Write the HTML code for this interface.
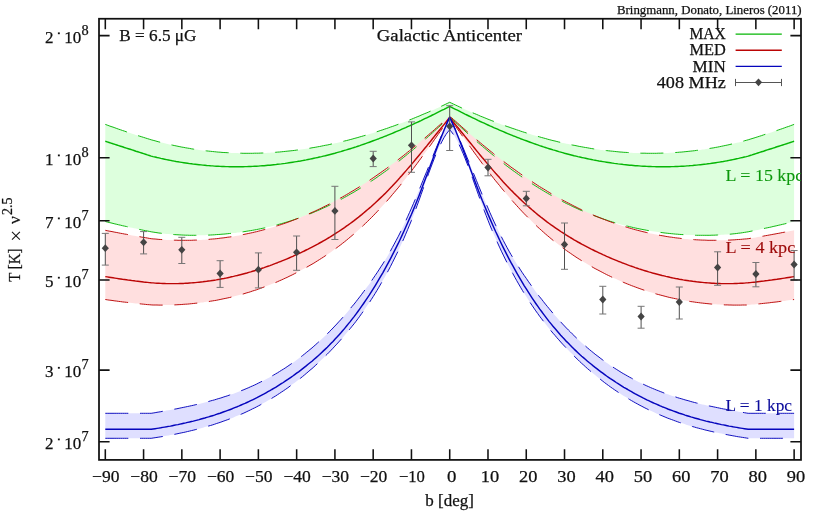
<!DOCTYPE html><html><head><meta charset="utf-8"><title>plot</title><style>html,body{margin:0;padding:0;background:#fff}svg{display:block;will-change:transform;opacity:.999}text{font-family:"Liberation Serif",serif;fill:#111;stroke:#111;stroke-width:.25px}</style></head><body>
<svg width="830" height="512" viewBox="0 0 830 512">
<rect width="830" height="512" fill="#fff"/>
<path d="M105.3 124.4L107.2 125.1L109.1 125.8L111.0 126.5L113.0 127.1L114.9 127.8L116.8 128.5L118.7 129.2L120.6 129.8L122.5 130.5L124.4 131.1L126.4 131.8L128.3 132.4L130.2 133.1L132.1 133.7L134.0 134.3L135.9 134.9L137.8 135.6L139.7 136.2L141.7 136.8L143.6 137.4L145.5 138.0L147.4 138.6L149.3 139.2L151.2 139.8L153.1 140.3L155.1 140.8L157.0 141.4L158.9 141.9L160.8 142.4L162.7 142.8L164.6 143.3L166.5 143.8L168.5 144.2L170.4 144.7L172.3 145.1L174.2 145.5L176.1 145.9L178.0 146.3L179.9 146.7L181.8 147.1L183.8 147.4L185.7 147.8L187.6 148.1L189.5 148.4L191.4 148.8L193.3 149.1L195.2 149.4L197.2 149.6L199.1 149.9L201.0 150.2L202.9 150.4L204.8 150.7L206.7 150.9L208.6 151.1L210.5 151.3L212.5 151.5L214.4 151.7L216.3 151.9L218.2 152.1L220.1 152.2L222.0 152.4L223.9 152.5L225.9 152.6L227.8 152.7L229.7 152.8L231.6 152.9L233.5 153.0L235.4 153.1L237.3 153.1L239.2 153.2L241.2 153.2L243.1 153.3L245.0 153.3L246.9 153.3L248.8 153.3L250.7 153.3L252.6 153.3L254.6 153.2L256.5 153.2L258.4 153.2L260.3 153.1L262.2 153.0L264.1 153.0L266.0 152.9L267.9 152.8L269.9 152.7L271.8 152.5L273.7 152.4L275.6 152.3L277.5 152.1L279.4 152.0L281.3 151.8L283.3 151.6L285.2 151.4L287.1 151.2L289.0 151.0L290.9 150.8L292.8 150.6L294.7 150.4L296.6 150.1L298.6 149.9L300.5 149.6L302.4 149.3L304.3 149.1L306.2 148.8L308.1 148.5L310.0 148.2L312.0 147.8L313.9 147.5L315.8 147.2L317.7 146.8L319.6 146.5L321.5 146.1L323.4 145.7L325.3 145.3L327.3 145.0L329.2 144.6L331.1 144.1L333.0 143.7L334.9 143.3L336.8 142.9L338.7 142.4L340.7 142.0L342.6 141.5L344.5 141.0L346.4 140.6L348.3 140.1L350.2 139.6L352.1 139.1L354.1 138.5L356.0 138.0L357.9 137.5L359.8 136.9L361.7 136.4L363.6 135.8L365.5 135.3L367.4 134.7L369.4 134.1L371.3 133.5L373.2 132.9L375.1 132.3L377.0 131.7L378.9 131.1L380.8 130.4L382.8 129.8L384.7 129.1L386.6 128.5L388.5 127.8L390.4 127.1L392.3 126.5L394.2 125.8L396.1 125.1L398.1 124.4L400.0 123.6L401.9 122.9L403.8 122.2L405.7 121.4L407.6 120.7L409.5 119.9L411.5 119.2L413.4 118.4L415.3 117.6L417.2 116.8L419.1 116.1L421.0 115.2L422.9 114.4L424.8 113.6L426.8 112.8L428.7 112.0L430.6 111.1L432.5 110.3L434.4 109.4L436.3 108.6L438.2 107.7L440.2 106.8L442.1 105.9L444.0 105.0L445.9 104.1L447.8 103.2L449.7 102.3L451.6 103.2L453.5 104.1L455.5 105.0L457.4 105.9L459.3 106.8L461.2 107.7L463.1 108.6L465.0 109.4L466.9 110.3L468.9 111.1L470.8 112.0L472.7 112.8L474.6 113.6L476.5 114.4L478.4 115.2L480.3 116.1L482.2 116.8L484.2 117.6L486.1 118.4L488.0 119.2L489.9 119.9L491.8 120.7L493.7 121.4L495.6 122.2L497.6 122.9L499.5 123.6L501.4 124.4L503.3 125.1L505.2 125.8L507.1 126.5L509.0 127.1L510.9 127.8L512.9 128.5L514.8 129.1L516.7 129.8L518.6 130.4L520.5 131.1L522.4 131.7L524.3 132.3L526.3 132.9L528.2 133.5L530.1 134.1L532.0 134.7L533.9 135.3L535.8 135.8L537.7 136.4L539.6 136.9L541.6 137.5L543.5 138.0L545.4 138.5L547.3 139.1L549.2 139.6L551.1 140.1L553.0 140.6L555.0 141.0L556.9 141.5L558.8 142.0L560.7 142.4L562.6 142.9L564.5 143.3L566.4 143.7L568.4 144.1L570.3 144.6L572.2 145.0L574.1 145.3L576.0 145.7L577.9 146.1L579.8 146.5L581.7 146.8L583.7 147.2L585.6 147.5L587.5 147.8L589.4 148.2L591.3 148.5L593.2 148.8L595.1 149.1L597.1 149.3L599.0 149.6L600.9 149.9L602.8 150.1L604.7 150.4L606.6 150.6L608.5 150.8L610.4 151.0L612.4 151.2L614.3 151.4L616.2 151.6L618.1 151.8L620.0 152.0L621.9 152.1L623.8 152.3L625.8 152.4L627.7 152.5L629.6 152.7L631.5 152.8L633.4 152.9L635.3 153.0L637.2 153.0L639.1 153.1L641.1 153.2L643.0 153.2L644.9 153.2L646.8 153.3L648.7 153.3L650.6 153.3L652.5 153.3L654.5 153.3L656.4 153.3L658.3 153.2L660.2 153.2L662.1 153.1L664.0 153.1L665.9 153.0L667.8 152.9L669.8 152.8L671.7 152.7L673.6 152.6L675.5 152.5L677.4 152.4L679.3 152.2L681.2 152.1L683.2 151.9L685.1 151.7L687.0 151.5L688.9 151.3L690.8 151.1L692.7 150.9L694.6 150.7L696.5 150.4L698.5 150.2L700.4 149.9L702.3 149.6L704.2 149.4L706.1 149.1L708.0 148.8L709.9 148.4L711.9 148.1L713.8 147.8L715.7 147.4L717.6 147.1L719.5 146.7L721.4 146.3L723.3 145.9L725.2 145.5L727.2 145.1L729.1 144.7L731.0 144.2L732.9 143.8L734.8 143.3L736.7 142.8L738.6 142.4L740.6 141.9L742.5 141.4L744.4 140.8L746.3 140.3L748.2 139.8L750.1 139.2L752.0 138.6L754.0 138.0L755.9 137.4L757.8 136.8L759.7 136.2L761.6 135.6L763.5 134.9L765.4 134.3L767.3 133.7L769.3 133.1L771.2 132.4L773.1 131.8L775.0 131.1L776.9 130.5L778.8 129.8L780.7 129.2L782.7 128.5L784.6 127.8L786.5 127.1L788.4 126.5L790.3 125.8L792.2 125.1L794.1 124.4L794.1 221.5L792.2 222.0L790.3 222.5L788.4 222.9L786.5 223.4L784.6 223.9L782.7 224.3L780.7 224.8L778.8 225.2L776.9 225.7L775.0 226.1L773.1 226.5L771.2 227.0L769.3 227.4L767.3 227.8L765.4 228.2L763.5 228.6L761.6 229.1L759.7 229.5L757.8 229.9L755.9 230.3L754.0 230.7L752.0 231.0L750.1 231.4L748.2 231.8L746.3 232.1L744.4 232.4L742.5 232.7L740.6 233.0L738.6 233.2L736.7 233.5L734.8 233.7L732.9 233.9L731.0 234.1L729.1 234.3L727.2 234.4L725.2 234.6L723.3 234.7L721.4 234.8L719.5 234.9L717.6 235.0L715.7 235.1L713.8 235.2L711.9 235.2L709.9 235.3L708.0 235.3L706.1 235.3L704.2 235.3L702.3 235.3L700.4 235.3L698.5 235.3L696.5 235.3L694.6 235.2L692.7 235.1L690.8 235.1L688.9 235.0L687.0 234.9L685.1 234.8L683.2 234.6L681.2 234.5L679.3 234.4L677.4 234.2L675.5 234.1L673.6 233.9L671.7 233.7L669.8 233.5L667.8 233.3L665.9 233.1L664.0 232.9L662.1 232.6L660.2 232.4L658.3 232.1L656.4 231.8L654.5 231.5L652.5 231.2L650.6 230.9L648.7 230.6L646.8 230.3L644.9 229.9L643.0 229.6L641.1 229.2L639.1 228.8L637.2 228.4L635.3 228.0L633.4 227.6L631.5 227.1L629.6 226.7L627.7 226.2L625.8 225.7L623.8 225.2L621.9 224.7L620.0 224.2L618.1 223.7L616.2 223.1L614.3 222.5L612.4 222.0L610.4 221.4L608.5 220.8L606.6 220.1L604.7 219.5L602.8 218.8L600.9 218.2L599.0 217.5L597.1 216.8L595.1 216.1L593.2 215.3L591.3 214.6L589.4 213.8L587.5 213.0L585.6 212.2L583.7 211.4L581.7 210.6L579.8 209.8L577.9 208.9L576.0 208.0L574.1 207.2L572.2 206.3L570.3 205.3L568.4 204.4L566.4 203.5L564.5 202.5L562.6 201.5L560.7 200.5L558.8 199.5L556.9 198.5L555.0 197.4L553.0 196.4L551.1 195.3L549.2 194.2L547.3 193.1L545.4 192.0L543.5 190.8L541.6 189.7L539.6 188.5L537.7 187.3L535.8 186.1L533.9 184.9L532.0 183.7L530.1 182.4L528.2 181.1L526.3 179.9L524.3 178.6L522.4 177.3L520.5 175.9L518.6 174.6L516.7 173.2L514.8 171.8L512.9 170.5L510.9 169.0L509.0 167.6L507.1 166.2L505.2 164.7L503.3 163.2L501.4 161.8L499.5 160.3L497.6 158.7L495.6 157.2L493.7 155.7L491.8 154.1L489.9 152.5L488.0 151.0L486.1 149.4L484.2 147.8L482.2 146.1L480.3 144.5L478.4 142.9L476.5 141.2L474.6 139.5L472.7 137.9L470.8 136.2L468.9 134.5L466.9 132.8L465.0 131.0L463.1 129.3L461.2 127.6L459.3 125.8L457.4 124.1L455.5 122.3L453.5 120.6L451.6 118.8L449.7 117.0L447.8 118.8L445.9 120.6L444.0 122.3L442.1 124.1L440.2 125.8L438.2 127.6L436.3 129.3L434.4 131.0L432.5 132.8L430.6 134.5L428.7 136.2L426.8 137.9L424.8 139.5L422.9 141.2L421.0 142.9L419.1 144.5L417.2 146.1L415.3 147.8L413.4 149.4L411.5 151.0L409.5 152.5L407.6 154.1L405.7 155.7L403.8 157.2L401.9 158.7L400.0 160.3L398.1 161.8L396.1 163.2L394.2 164.7L392.3 166.2L390.4 167.6L388.5 169.0L386.6 170.5L384.7 171.8L382.8 173.2L380.8 174.6L378.9 175.9L377.0 177.3L375.1 178.6L373.2 179.9L371.3 181.1L369.4 182.4L367.4 183.7L365.5 184.9L363.6 186.1L361.7 187.3L359.8 188.5L357.9 189.7L356.0 190.8L354.1 192.0L352.1 193.1L350.2 194.2L348.3 195.3L346.4 196.4L344.5 197.4L342.6 198.5L340.7 199.5L338.7 200.5L336.8 201.5L334.9 202.5L333.0 203.5L331.1 204.4L329.2 205.3L327.3 206.3L325.3 207.2L323.4 208.0L321.5 208.9L319.6 209.8L317.7 210.6L315.8 211.4L313.9 212.2L312.0 213.0L310.0 213.8L308.1 214.6L306.2 215.3L304.3 216.1L302.4 216.8L300.5 217.5L298.6 218.2L296.6 218.8L294.7 219.5L292.8 220.1L290.9 220.8L289.0 221.4L287.1 222.0L285.2 222.5L283.3 223.1L281.3 223.7L279.4 224.2L277.5 224.7L275.6 225.2L273.7 225.7L271.8 226.2L269.9 226.7L267.9 227.1L266.0 227.6L264.1 228.0L262.2 228.4L260.3 228.8L258.4 229.2L256.5 229.6L254.6 229.9L252.6 230.3L250.7 230.6L248.8 230.9L246.9 231.2L245.0 231.5L243.1 231.8L241.2 232.1L239.2 232.4L237.3 232.6L235.4 232.9L233.5 233.1L231.6 233.3L229.7 233.5L227.8 233.7L225.9 233.9L223.9 234.1L222.0 234.2L220.1 234.4L218.2 234.5L216.3 234.6L214.4 234.8L212.5 234.9L210.5 235.0L208.6 235.1L206.7 235.1L204.8 235.2L202.9 235.3L201.0 235.3L199.1 235.3L197.2 235.3L195.2 235.3L193.3 235.3L191.4 235.3L189.5 235.3L187.6 235.2L185.7 235.2L183.8 235.1L181.8 235.0L179.9 234.9L178.0 234.8L176.1 234.7L174.2 234.6L172.3 234.4L170.4 234.3L168.5 234.1L166.5 233.9L164.6 233.7L162.7 233.5L160.8 233.2L158.9 233.0L157.0 232.7L155.1 232.4L153.1 232.1L151.2 231.8L149.3 231.4L147.4 231.0L145.5 230.7L143.6 230.3L141.7 229.9L139.7 229.5L137.8 229.1L135.9 228.6L134.0 228.2L132.1 227.8L130.2 227.4L128.3 227.0L126.4 226.5L124.4 226.1L122.5 225.7L120.6 225.2L118.7 224.8L116.8 224.3L114.9 223.9L113.0 223.4L111.0 222.9L109.1 222.5L107.2 222.0L105.3 221.5Z" fill="#ddffdd"/>
<path d="M105.3 230.3L107.2 230.7L109.1 231.1L111.0 231.4L113.0 231.8L114.9 232.2L116.8 232.5L118.7 232.9L120.6 233.3L122.5 233.6L124.4 234.0L126.4 234.3L128.3 234.7L130.2 235.0L132.1 235.4L134.0 235.7L135.9 236.1L137.8 236.4L139.7 236.7L141.7 237.1L143.6 237.4L145.5 237.7L147.4 238.0L149.3 238.4L151.2 238.7L153.1 238.9L155.1 239.0L157.0 239.2L158.9 239.4L160.8 239.5L162.7 239.6L164.6 239.8L166.5 239.9L168.5 240.0L170.4 240.1L172.3 240.1L174.2 240.2L176.1 240.2L178.0 240.3L179.9 240.3L181.8 240.3L183.8 240.3L185.7 240.3L187.6 240.3L189.5 240.3L191.4 240.3L193.3 240.2L195.2 240.1L197.2 240.1L199.1 240.0L201.0 239.9L202.9 239.8L204.8 239.7L206.7 239.5L208.6 239.4L210.5 239.2L212.5 239.0L214.4 238.9L216.3 238.7L218.2 238.5L220.1 238.2L222.0 238.0L223.9 237.8L225.9 237.5L227.8 237.2L229.7 237.0L231.6 236.7L233.5 236.4L235.4 236.0L237.3 235.7L239.2 235.4L241.2 235.0L243.1 234.6L245.0 234.2L246.9 233.8L248.8 233.4L250.7 233.0L252.6 232.6L254.6 232.1L256.5 231.7L258.4 231.2L260.3 230.7L262.2 230.2L264.1 229.7L266.0 229.2L267.9 228.6L269.9 228.1L271.8 227.5L273.7 226.9L275.6 226.3L277.5 225.7L279.4 225.1L281.3 224.5L283.3 223.8L285.2 223.2L287.1 222.5L289.0 221.8L290.9 221.1L292.8 220.4L294.7 219.6L296.6 218.9L298.6 218.1L300.5 217.4L302.4 216.6L304.3 215.8L306.2 215.0L308.1 214.1L310.0 213.3L312.0 212.4L313.9 211.6L315.8 210.7L317.7 209.8L319.6 208.9L321.5 208.0L323.4 207.0L325.3 206.1L327.3 205.1L329.2 204.1L331.1 203.1L333.0 202.1L334.9 201.1L336.8 200.1L338.7 199.0L340.7 197.9L342.6 196.9L344.5 195.8L346.4 194.7L348.3 193.6L350.2 192.4L352.1 191.3L354.1 190.1L356.0 188.9L357.9 187.8L359.8 186.6L361.7 185.4L363.6 184.1L365.5 182.9L367.4 181.6L369.4 180.4L371.3 179.1L373.2 177.8L375.1 176.5L377.0 175.2L378.9 173.8L380.8 172.5L382.8 171.1L384.7 169.7L386.6 168.4L388.5 167.0L390.4 165.5L392.3 164.1L394.2 162.7L396.1 161.2L398.1 159.7L400.0 158.3L401.9 156.8L403.8 155.3L405.7 153.8L407.6 152.2L409.5 150.7L411.5 149.1L413.4 147.6L415.3 146.0L417.2 144.4L419.1 142.8L421.0 141.2L422.9 139.6L424.8 138.0L426.8 136.3L428.7 134.7L430.6 133.0L432.5 131.4L434.4 129.7L436.3 128.0L438.2 126.3L440.2 124.6L442.1 122.9L444.0 121.2L445.9 119.5L447.8 117.7L449.7 116.0L451.6 117.7L453.5 119.5L455.5 121.2L457.4 122.9L459.3 124.6L461.2 126.3L463.1 128.0L465.0 129.7L466.9 131.4L468.9 133.0L470.8 134.7L472.7 136.3L474.6 138.0L476.5 139.6L478.4 141.2L480.3 142.8L482.2 144.4L484.2 146.0L486.1 147.6L488.0 149.1L489.9 150.7L491.8 152.2L493.7 153.8L495.6 155.3L497.6 156.8L499.5 158.3L501.4 159.7L503.3 161.2L505.2 162.7L507.1 164.1L509.0 165.5L510.9 167.0L512.9 168.4L514.8 169.7L516.7 171.1L518.6 172.5L520.5 173.8L522.4 175.2L524.3 176.5L526.3 177.8L528.2 179.1L530.1 180.4L532.0 181.6L533.9 182.9L535.8 184.1L537.7 185.4L539.6 186.6L541.6 187.8L543.5 188.9L545.4 190.1L547.3 191.3L549.2 192.4L551.1 193.6L553.0 194.7L555.0 195.8L556.9 196.9L558.8 197.9L560.7 199.0L562.6 200.1L564.5 201.1L566.4 202.1L568.4 203.1L570.3 204.1L572.2 205.1L574.1 206.1L576.0 207.0L577.9 208.0L579.8 208.9L581.7 209.8L583.7 210.7L585.6 211.6L587.5 212.4L589.4 213.3L591.3 214.1L593.2 215.0L595.1 215.8L597.1 216.6L599.0 217.4L600.9 218.1L602.8 218.9L604.7 219.6L606.6 220.4L608.5 221.1L610.4 221.8L612.4 222.5L614.3 223.2L616.2 223.8L618.1 224.5L620.0 225.1L621.9 225.7L623.8 226.3L625.8 226.9L627.7 227.5L629.6 228.1L631.5 228.6L633.4 229.2L635.3 229.7L637.2 230.2L639.1 230.7L641.1 231.2L643.0 231.7L644.9 232.1L646.8 232.6L648.7 233.0L650.6 233.4L652.5 233.8L654.5 234.2L656.4 234.6L658.3 235.0L660.2 235.4L662.1 235.7L664.0 236.0L665.9 236.4L667.8 236.7L669.8 237.0L671.7 237.2L673.6 237.5L675.5 237.8L677.4 238.0L679.3 238.2L681.2 238.5L683.2 238.7L685.1 238.9L687.0 239.0L688.9 239.2L690.8 239.4L692.7 239.5L694.6 239.7L696.5 239.8L698.5 239.9L700.4 240.0L702.3 240.1L704.2 240.1L706.1 240.2L708.0 240.3L709.9 240.3L711.9 240.3L713.8 240.3L715.7 240.3L717.6 240.3L719.5 240.3L721.4 240.3L723.3 240.2L725.2 240.2L727.2 240.1L729.1 240.1L731.0 240.0L732.9 239.9L734.8 239.8L736.7 239.6L738.6 239.5L740.6 239.4L742.5 239.2L744.4 239.0L746.3 238.9L748.2 238.7L750.1 238.4L752.0 238.0L754.0 237.7L755.9 237.4L757.8 237.1L759.7 236.7L761.6 236.4L763.5 236.1L765.4 235.7L767.3 235.4L769.3 235.0L771.2 234.7L773.1 234.3L775.0 234.0L776.9 233.6L778.8 233.3L780.7 232.9L782.7 232.5L784.6 232.2L786.5 231.8L788.4 231.4L790.3 231.1L792.2 230.7L794.1 230.3L794.1 299.5L792.2 299.8L790.3 300.1L788.4 300.3L786.5 300.6L784.6 300.9L782.7 301.1L780.7 301.4L778.8 301.6L776.9 301.9L775.0 302.1L773.1 302.3L771.2 302.5L769.3 302.8L767.3 303.0L765.4 303.2L763.5 303.4L761.6 303.6L759.7 303.8L757.8 304.0L755.9 304.2L754.0 304.4L752.0 304.6L750.1 304.7L748.2 304.9L746.3 305.0L744.4 305.0L742.5 305.0L740.6 305.1L738.6 305.1L736.7 305.1L734.8 305.1L732.9 305.1L731.0 305.0L729.1 305.0L727.2 304.9L725.2 304.9L723.3 304.8L721.4 304.7L719.5 304.6L717.6 304.5L715.7 304.3L713.8 304.2L711.9 304.1L709.9 303.9L708.0 303.7L706.1 303.5L704.2 303.3L702.3 303.1L700.4 302.9L698.5 302.6L696.5 302.4L694.6 302.1L692.7 301.8L690.8 301.6L688.9 301.2L687.0 300.9L685.1 300.6L683.2 300.3L681.2 299.9L679.3 299.5L677.4 299.1L675.5 298.7L673.6 298.3L671.7 297.9L669.8 297.5L667.8 297.0L665.9 296.5L664.0 296.0L662.1 295.5L660.2 295.0L658.3 294.5L656.4 294.0L654.5 293.4L652.5 292.8L650.6 292.3L648.7 291.7L646.8 291.0L644.9 290.4L643.0 289.8L641.1 289.1L639.1 288.4L637.2 287.7L635.3 287.0L633.4 286.3L631.5 285.6L629.6 284.8L627.7 284.1L625.8 283.3L623.8 282.5L621.9 281.7L620.0 280.8L618.1 280.0L616.2 279.1L614.3 278.2L612.4 277.4L610.4 276.4L608.5 275.5L606.6 274.6L604.7 273.6L602.8 272.6L600.9 271.6L599.0 270.6L597.1 269.6L595.1 268.6L593.2 267.5L591.3 266.4L589.4 265.3L587.5 264.2L585.6 263.1L583.7 261.9L581.7 260.7L579.8 259.5L577.9 258.3L576.0 257.1L574.1 255.8L572.2 254.5L570.3 253.2L568.4 251.9L566.4 250.5L564.5 249.1L562.6 247.7L560.7 246.3L558.8 244.8L556.9 243.3L555.0 241.8L553.0 240.3L551.1 238.7L549.2 237.1L547.3 235.5L545.4 233.9L543.5 232.2L541.6 230.5L539.6 228.7L537.7 227.0L535.8 225.2L533.9 223.4L532.0 221.5L530.1 219.6L528.2 217.7L526.3 215.8L524.3 213.8L522.4 211.8L520.5 209.8L518.6 207.7L516.7 205.6L514.8 203.5L512.9 201.4L510.9 199.2L509.0 197.0L507.1 194.7L505.2 192.5L503.3 190.2L501.4 187.9L499.5 185.5L497.6 183.2L495.6 180.8L493.7 178.4L491.8 175.9L489.9 173.4L488.0 171.0L486.1 168.4L484.2 165.9L482.2 163.4L480.3 160.8L478.4 158.2L476.5 155.6L474.6 153.0L472.7 150.4L470.8 147.7L468.9 145.1L466.9 142.4L465.0 139.7L463.1 137.0L461.2 134.3L459.3 131.6L457.4 128.9L455.5 126.2L453.5 123.5L451.6 120.7L449.7 118.0L447.8 120.7L445.9 123.5L444.0 126.2L442.1 128.9L440.2 131.6L438.2 134.3L436.3 137.0L434.4 139.7L432.5 142.4L430.6 145.1L428.7 147.7L426.8 150.4L424.8 153.0L422.9 155.6L421.0 158.2L419.1 160.8L417.2 163.4L415.3 165.9L413.4 168.4L411.5 171.0L409.5 173.4L407.6 175.9L405.7 178.4L403.8 180.8L401.9 183.2L400.0 185.5L398.1 187.9L396.1 190.2L394.2 192.5L392.3 194.7L390.4 197.0L388.5 199.2L386.6 201.4L384.7 203.5L382.8 205.6L380.8 207.7L378.9 209.8L377.0 211.8L375.1 213.8L373.2 215.8L371.3 217.7L369.4 219.6L367.4 221.5L365.5 223.4L363.6 225.2L361.7 227.0L359.8 228.7L357.9 230.5L356.0 232.2L354.1 233.9L352.1 235.5L350.2 237.1L348.3 238.7L346.4 240.3L344.5 241.8L342.6 243.3L340.7 244.8L338.7 246.3L336.8 247.7L334.9 249.1L333.0 250.5L331.1 251.9L329.2 253.2L327.3 254.5L325.3 255.8L323.4 257.1L321.5 258.3L319.6 259.5L317.7 260.7L315.8 261.9L313.9 263.1L312.0 264.2L310.0 265.3L308.1 266.4L306.2 267.5L304.3 268.6L302.4 269.6L300.5 270.6L298.6 271.6L296.6 272.6L294.7 273.6L292.8 274.6L290.9 275.5L289.0 276.4L287.1 277.4L285.2 278.2L283.3 279.1L281.3 280.0L279.4 280.8L277.5 281.7L275.6 282.5L273.7 283.3L271.8 284.1L269.9 284.8L267.9 285.6L266.0 286.3L264.1 287.0L262.2 287.7L260.3 288.4L258.4 289.1L256.5 289.8L254.6 290.4L252.6 291.0L250.7 291.7L248.8 292.3L246.9 292.8L245.0 293.4L243.1 294.0L241.2 294.5L239.2 295.0L237.3 295.5L235.4 296.0L233.5 296.5L231.6 297.0L229.7 297.5L227.8 297.9L225.9 298.3L223.9 298.7L222.0 299.1L220.1 299.5L218.2 299.9L216.3 300.3L214.4 300.6L212.5 300.9L210.5 301.2L208.6 301.6L206.7 301.8L204.8 302.1L202.9 302.4L201.0 302.6L199.1 302.9L197.2 303.1L195.2 303.3L193.3 303.5L191.4 303.7L189.5 303.9L187.6 304.1L185.7 304.2L183.8 304.3L181.8 304.5L179.9 304.6L178.0 304.7L176.1 304.8L174.2 304.9L172.3 304.9L170.4 305.0L168.5 305.0L166.5 305.1L164.6 305.1L162.7 305.1L160.8 305.1L158.9 305.1L157.0 305.0L155.1 305.0L153.1 305.0L151.2 304.9L149.3 304.7L147.4 304.6L145.5 304.4L143.6 304.2L141.7 304.0L139.7 303.8L137.8 303.6L135.9 303.4L134.0 303.2L132.1 303.0L130.2 302.8L128.3 302.5L126.4 302.3L124.4 302.1L122.5 301.9L120.6 301.6L118.7 301.4L116.8 301.1L114.9 300.9L113.0 300.6L111.0 300.3L109.1 300.1L107.2 299.8L105.3 299.5Z" fill="#ffdfdf"/>
<path d="M105.3 413.3L107.2 413.3L109.1 413.3L111.0 413.3L113.0 413.3L114.9 413.3L116.8 413.3L118.7 413.3L120.6 413.3L122.5 413.3L124.4 413.3L126.4 413.3L128.3 413.3L130.2 413.3L132.1 413.3L134.0 413.3L135.9 413.3L137.8 413.3L139.7 413.3L141.7 413.3L143.6 413.3L145.5 413.3L147.4 413.3L149.3 413.3L151.2 413.3L153.1 413.0L155.1 412.7L157.0 412.3L158.9 412.0L160.8 411.7L162.7 411.3L164.6 411.0L166.5 410.6L168.5 410.3L170.4 409.9L172.3 409.6L174.2 409.2L176.1 408.9L178.0 408.5L179.9 408.1L181.8 407.7L183.8 407.3L185.7 406.9L187.6 406.5L189.5 406.1L191.4 405.7L193.3 405.3L195.2 404.8L197.2 404.4L199.1 403.9L201.0 403.4L202.9 403.0L204.8 402.5L206.7 402.0L208.6 401.5L210.5 400.9L212.5 400.4L214.4 399.9L216.3 399.3L218.2 398.7L220.1 398.2L222.0 397.6L223.9 396.9L225.9 396.3L227.8 395.7L229.7 395.0L231.6 394.3L233.5 393.7L235.4 393.0L237.3 392.2L239.2 391.5L241.2 390.7L243.1 390.0L245.0 389.2L246.9 388.4L248.8 387.6L250.7 386.7L252.6 385.9L254.6 385.0L256.5 384.1L258.4 383.1L260.3 382.2L262.2 381.2L264.1 380.3L266.0 379.3L267.9 378.2L269.9 377.2L271.8 376.1L273.7 375.0L275.6 373.9L277.5 372.8L279.4 371.6L281.3 370.4L283.3 369.2L285.2 368.0L287.1 366.7L289.0 365.4L290.9 364.1L292.8 362.8L294.7 361.4L296.6 360.0L298.6 358.6L300.5 357.1L302.4 355.7L304.3 354.2L306.2 352.6L308.1 351.1L310.0 349.5L312.0 347.9L313.9 346.2L315.8 344.5L317.7 342.8L319.6 341.1L321.5 339.3L323.4 337.5L325.3 335.7L327.3 333.8L329.2 331.9L331.1 330.0L333.0 328.0L334.9 326.0L336.8 324.0L338.7 321.9L340.7 319.8L342.6 317.6L344.5 315.5L346.4 313.3L348.3 311.0L350.2 308.7L352.1 306.4L354.1 304.1L356.0 301.7L357.9 299.2L359.8 296.8L361.7 294.3L363.6 291.7L365.5 289.1L367.4 286.5L369.4 283.9L371.3 281.2L373.2 278.4L375.1 275.6L377.0 272.8L378.9 269.9L380.8 266.9L382.8 263.9L384.7 260.8L386.6 257.7L388.5 254.4L390.4 251.1L392.3 247.6L394.2 244.1L396.1 240.5L398.1 236.8L400.0 233.0L401.9 229.1L403.8 225.1L405.7 221.0L407.6 216.8L409.5 212.5L411.5 208.1L413.4 203.7L415.3 199.2L417.2 194.6L419.1 190.0L421.0 185.4L422.9 180.7L424.8 176.0L426.8 171.3L428.7 166.5L430.6 161.8L432.5 157.1L434.4 152.4L436.3 147.8L438.2 143.2L440.2 138.6L442.1 134.1L444.0 129.6L445.9 125.3L447.8 121.0L449.7 116.8L451.6 121.0L453.5 125.3L455.5 129.6L457.4 134.1L459.3 138.6L461.2 143.2L463.1 147.8L465.0 152.4L466.9 157.1L468.9 161.8L470.8 166.5L472.7 171.3L474.6 176.0L476.5 180.7L478.4 185.4L480.3 190.0L482.2 194.6L484.2 199.2L486.1 203.7L488.0 208.1L489.9 212.5L491.8 216.8L493.7 221.0L495.6 225.1L497.6 229.1L499.5 233.0L501.4 236.8L503.3 240.5L505.2 244.1L507.1 247.6L509.0 251.1L510.9 254.4L512.9 257.7L514.8 260.8L516.7 263.9L518.6 266.9L520.5 269.9L522.4 272.8L524.3 275.6L526.3 278.4L528.2 281.2L530.1 283.9L532.0 286.5L533.9 289.1L535.8 291.7L537.7 294.3L539.6 296.8L541.6 299.2L543.5 301.7L545.4 304.1L547.3 306.4L549.2 308.7L551.1 311.0L553.0 313.3L555.0 315.5L556.9 317.6L558.8 319.8L560.7 321.9L562.6 324.0L564.5 326.0L566.4 328.0L568.4 330.0L570.3 331.9L572.2 333.8L574.1 335.7L576.0 337.5L577.9 339.3L579.8 341.1L581.7 342.8L583.7 344.5L585.6 346.2L587.5 347.9L589.4 349.5L591.3 351.1L593.2 352.6L595.1 354.2L597.1 355.7L599.0 357.1L600.9 358.6L602.8 360.0L604.7 361.4L606.6 362.8L608.5 364.1L610.4 365.4L612.4 366.7L614.3 368.0L616.2 369.2L618.1 370.4L620.0 371.6L621.9 372.8L623.8 373.9L625.8 375.0L627.7 376.1L629.6 377.2L631.5 378.2L633.4 379.3L635.3 380.3L637.2 381.2L639.1 382.2L641.1 383.1L643.0 384.1L644.9 385.0L646.8 385.9L648.7 386.7L650.6 387.6L652.5 388.4L654.5 389.2L656.4 390.0L658.3 390.7L660.2 391.5L662.1 392.2L664.0 393.0L665.9 393.7L667.8 394.3L669.8 395.0L671.7 395.7L673.6 396.3L675.5 396.9L677.4 397.6L679.3 398.2L681.2 398.7L683.2 399.3L685.1 399.9L687.0 400.4L688.9 400.9L690.8 401.5L692.7 402.0L694.6 402.5L696.5 403.0L698.5 403.4L700.4 403.9L702.3 404.4L704.2 404.8L706.1 405.3L708.0 405.7L709.9 406.1L711.9 406.5L713.8 406.9L715.7 407.3L717.6 407.7L719.5 408.1L721.4 408.5L723.3 408.9L725.2 409.2L727.2 409.6L729.1 409.9L731.0 410.3L732.9 410.6L734.8 411.0L736.7 411.3L738.6 411.7L740.6 412.0L742.5 412.3L744.4 412.7L746.3 413.0L748.2 413.3L750.1 413.3L752.0 413.3L754.0 413.3L755.9 413.3L757.8 413.3L759.7 413.3L761.6 413.3L763.5 413.3L765.4 413.3L767.3 413.3L769.3 413.3L771.2 413.3L773.1 413.3L775.0 413.3L776.9 413.3L778.8 413.3L780.7 413.3L782.7 413.3L784.6 413.3L786.5 413.3L788.4 413.3L790.3 413.3L792.2 413.3L794.1 413.3L794.1 438.3L792.2 438.3L790.3 438.3L788.4 438.3L786.5 438.3L784.6 438.3L782.7 438.3L780.7 438.3L778.8 438.3L776.9 438.3L775.0 438.3L773.1 438.3L771.2 438.3L769.3 438.3L767.3 438.3L765.4 438.3L763.5 438.3L761.6 438.3L759.7 438.3L757.8 438.3L755.9 438.3L754.0 438.3L752.0 438.3L750.1 438.3L748.2 438.3L746.3 438.0L744.4 437.7L742.5 437.4L740.6 437.1L738.6 436.8L736.7 436.5L734.8 436.1L732.9 435.8L731.0 435.4L729.1 435.1L727.2 434.7L725.2 434.4L723.3 434.0L721.4 433.6L719.5 433.2L717.6 432.8L715.7 432.4L713.8 432.0L711.9 431.5L709.9 431.1L708.0 430.6L706.1 430.2L704.2 429.7L702.3 429.2L700.4 428.7L698.5 428.2L696.5 427.7L694.6 427.1L692.7 426.6L690.8 426.0L688.9 425.5L687.0 424.9L685.1 424.3L683.2 423.6L681.2 423.0L679.3 422.4L677.4 421.7L675.5 421.0L673.6 420.3L671.7 419.6L669.8 418.9L667.8 418.2L665.9 417.4L664.0 416.6L662.1 415.8L660.2 415.0L658.3 414.2L656.4 413.4L654.5 412.5L652.5 411.6L650.6 410.7L648.7 409.8L646.8 408.8L644.9 407.9L643.0 406.9L641.1 405.9L639.1 404.9L637.2 403.8L635.3 402.8L633.4 401.7L631.5 400.6L629.6 399.5L627.7 398.3L625.8 397.1L623.8 396.0L621.9 394.7L620.0 393.5L618.1 392.2L616.2 390.9L614.3 389.6L612.4 388.3L610.4 386.9L608.5 385.5L606.6 384.1L604.7 382.7L602.8 381.2L600.9 379.7L599.0 378.2L597.1 376.7L595.1 375.1L593.2 373.5L591.3 371.9L589.4 370.2L587.5 368.6L585.6 366.9L583.7 365.1L581.7 363.4L579.8 361.6L577.9 359.7L576.0 357.9L574.1 356.0L572.2 354.1L570.3 352.2L568.4 350.2L566.4 348.2L564.5 346.1L562.6 344.1L560.7 342.0L558.8 339.8L556.9 337.7L555.0 335.4L553.0 333.2L551.1 330.9L549.2 328.6L547.3 326.2L545.4 323.8L543.5 321.3L541.6 318.8L539.6 316.2L537.7 313.5L535.8 310.9L533.9 308.1L532.0 305.3L530.1 302.5L528.2 299.5L526.3 296.6L524.3 293.5L522.4 290.4L520.5 287.2L518.6 283.9L516.7 280.6L514.8 277.2L512.9 273.7L510.9 270.2L509.0 266.6L507.1 262.8L505.2 259.0L503.3 255.1L501.4 251.2L499.5 247.1L497.6 242.9L495.6 238.6L493.7 234.2L491.8 229.7L489.9 225.1L488.0 220.3L486.1 215.4L484.2 210.4L482.2 205.3L480.3 200.1L478.4 194.7L476.5 189.4L474.6 184.0L472.7 178.6L470.8 173.3L468.9 168.1L466.9 163.1L465.0 158.2L463.1 153.5L461.2 149.1L459.3 145.0L457.4 141.2L455.5 137.7L453.5 134.6L451.6 132.0L449.7 129.8L447.8 132.0L445.9 134.6L444.0 137.7L442.1 141.2L440.2 145.0L438.2 149.1L436.3 153.5L434.4 158.2L432.5 163.1L430.6 168.1L428.7 173.3L426.8 178.6L424.8 184.0L422.9 189.4L421.0 194.7L419.1 200.1L417.2 205.3L415.3 210.4L413.4 215.4L411.5 220.3L409.5 225.1L407.6 229.7L405.7 234.2L403.8 238.6L401.9 242.9L400.0 247.1L398.1 251.2L396.1 255.1L394.2 259.0L392.3 262.8L390.4 266.6L388.5 270.2L386.6 273.7L384.7 277.2L382.8 280.6L380.8 283.9L378.9 287.2L377.0 290.4L375.1 293.5L373.2 296.6L371.3 299.5L369.4 302.5L367.4 305.3L365.5 308.1L363.6 310.9L361.7 313.5L359.8 316.2L357.9 318.8L356.0 321.3L354.1 323.8L352.1 326.2L350.2 328.6L348.3 330.9L346.4 333.2L344.5 335.4L342.6 337.7L340.7 339.8L338.7 342.0L336.8 344.1L334.9 346.1L333.0 348.2L331.1 350.2L329.2 352.2L327.3 354.1L325.3 356.0L323.4 357.9L321.5 359.7L319.6 361.6L317.7 363.4L315.8 365.1L313.9 366.9L312.0 368.6L310.0 370.2L308.1 371.9L306.2 373.5L304.3 375.1L302.4 376.7L300.5 378.2L298.6 379.7L296.6 381.2L294.7 382.7L292.8 384.1L290.9 385.5L289.0 386.9L287.1 388.3L285.2 389.6L283.3 390.9L281.3 392.2L279.4 393.5L277.5 394.7L275.6 396.0L273.7 397.1L271.8 398.3L269.9 399.5L267.9 400.6L266.0 401.7L264.1 402.8L262.2 403.8L260.3 404.9L258.4 405.9L256.5 406.9L254.6 407.9L252.6 408.8L250.7 409.8L248.8 410.7L246.9 411.6L245.0 412.5L243.1 413.4L241.2 414.2L239.2 415.0L237.3 415.8L235.4 416.6L233.5 417.4L231.6 418.2L229.7 418.9L227.8 419.6L225.9 420.3L223.9 421.0L222.0 421.7L220.1 422.4L218.2 423.0L216.3 423.6L214.4 424.3L212.5 424.9L210.5 425.5L208.6 426.0L206.7 426.6L204.8 427.1L202.9 427.7L201.0 428.2L199.1 428.7L197.2 429.2L195.2 429.7L193.3 430.2L191.4 430.6L189.5 431.1L187.6 431.5L185.7 432.0L183.8 432.4L181.8 432.8L179.9 433.2L178.0 433.6L176.1 434.0L174.2 434.4L172.3 434.7L170.4 435.1L168.5 435.4L166.5 435.8L164.6 436.1L162.7 436.5L160.8 436.8L158.9 437.1L157.0 437.4L155.1 437.7L153.1 438.0L151.2 438.3L149.3 438.3L147.4 438.3L145.5 438.3L143.6 438.3L141.7 438.3L139.7 438.3L137.8 438.3L135.9 438.3L134.0 438.3L132.1 438.3L130.2 438.3L128.3 438.3L126.4 438.3L124.4 438.3L122.5 438.3L120.6 438.3L118.7 438.3L116.8 438.3L114.9 438.3L113.0 438.3L111.0 438.3L109.1 438.3L107.2 438.3L105.3 438.3Z" fill="#dfdfff"/>
<path d="M105.3 141.3L107.2 141.9L109.1 142.5L111.0 143.1L113.0 143.8L114.9 144.4L116.8 145.0L118.7 145.6L120.6 146.2L122.5 146.8L124.4 147.5L126.4 148.1L128.3 148.7L130.2 149.3L132.1 149.9L134.0 150.5L135.9 151.2L137.8 151.8L139.7 152.4L141.7 153.0L143.6 153.6L145.5 154.2L147.4 154.9L149.3 155.5L151.2 156.1L153.1 156.6L155.1 157.0L157.0 157.5L158.9 157.9L160.8 158.4L162.7 158.8L164.6 159.2L166.5 159.6L168.5 160.0L170.4 160.4L172.3 160.8L174.2 161.1L176.1 161.5L178.0 161.8L179.9 162.1L181.8 162.4L183.8 162.7L185.7 163.0L187.6 163.3L189.5 163.6L191.4 163.8L193.3 164.1L195.2 164.3L197.2 164.5L199.1 164.7L201.0 164.9L202.9 165.1L204.8 165.3L206.7 165.5L208.6 165.6L210.5 165.8L212.5 165.9L214.4 166.1L216.3 166.2L218.2 166.3L220.1 166.4L222.0 166.5L223.9 166.5L225.9 166.6L227.8 166.6L229.7 166.7L231.6 166.7L233.5 166.7L235.4 166.8L237.3 166.8L239.2 166.7L241.2 166.7L243.1 166.7L245.0 166.6L246.9 166.6L248.8 166.5L250.7 166.5L252.6 166.4L254.6 166.3L256.5 166.2L258.4 166.1L260.3 165.9L262.2 165.8L264.1 165.7L266.0 165.5L267.9 165.3L269.9 165.2L271.8 165.0L273.7 164.8L275.6 164.6L277.5 164.3L279.4 164.1L281.3 163.9L283.3 163.6L285.2 163.4L287.1 163.1L289.0 162.8L290.9 162.5L292.8 162.2L294.7 161.9L296.6 161.6L298.6 161.3L300.5 161.0L302.4 160.6L304.3 160.2L306.2 159.9L308.1 159.5L310.0 159.1L312.0 158.7L313.9 158.3L315.8 157.9L317.7 157.5L319.6 157.0L321.5 156.6L323.4 156.1L325.3 155.7L327.3 155.2L329.2 154.7L331.1 154.2L333.0 153.7L334.9 153.2L336.8 152.6L338.7 152.1L340.7 151.6L342.6 151.0L344.5 150.4L346.4 149.9L348.3 149.3L350.2 148.7L352.1 148.1L354.1 147.5L356.0 146.9L357.9 146.2L359.8 145.6L361.7 144.9L363.6 144.3L365.5 143.6L367.4 142.9L369.4 142.2L371.3 141.5L373.2 140.8L375.1 140.1L377.0 139.4L378.9 138.7L380.8 137.9L382.8 137.2L384.7 136.4L386.6 135.7L388.5 134.9L390.4 134.1L392.3 133.3L394.2 132.5L396.1 131.7L398.1 130.9L400.0 130.1L401.9 129.2L403.8 128.4L405.7 127.6L407.6 126.7L409.5 125.9L411.5 125.0L413.4 124.1L415.3 123.2L417.2 122.3L419.1 121.5L421.0 120.6L422.9 119.6L424.8 118.7L426.8 117.8L428.7 116.9L430.6 116.0L432.5 115.0L434.4 114.1L436.3 113.1L438.2 112.2L440.2 111.2L442.1 110.2L444.0 109.3L445.9 108.3L447.8 107.3L449.7 106.3L451.6 107.3L453.5 108.3L455.5 109.3L457.4 110.2L459.3 111.2L461.2 112.2L463.1 113.1L465.0 114.1L466.9 115.0L468.9 116.0L470.8 116.9L472.7 117.8L474.6 118.7L476.5 119.6L478.4 120.6L480.3 121.5L482.2 122.3L484.2 123.2L486.1 124.1L488.0 125.0L489.9 125.9L491.8 126.7L493.7 127.6L495.6 128.4L497.6 129.2L499.5 130.1L501.4 130.9L503.3 131.7L505.2 132.5L507.1 133.3L509.0 134.1L510.9 134.9L512.9 135.7L514.8 136.4L516.7 137.2L518.6 137.9L520.5 138.7L522.4 139.4L524.3 140.1L526.3 140.8L528.2 141.5L530.1 142.2L532.0 142.9L533.9 143.6L535.8 144.3L537.7 144.9L539.6 145.6L541.6 146.2L543.5 146.9L545.4 147.5L547.3 148.1L549.2 148.7L551.1 149.3L553.0 149.9L555.0 150.4L556.9 151.0L558.8 151.6L560.7 152.1L562.6 152.6L564.5 153.2L566.4 153.7L568.4 154.2L570.3 154.7L572.2 155.2L574.1 155.7L576.0 156.1L577.9 156.6L579.8 157.0L581.7 157.5L583.7 157.9L585.6 158.3L587.5 158.7L589.4 159.1L591.3 159.5L593.2 159.9L595.1 160.2L597.1 160.6L599.0 161.0L600.9 161.3L602.8 161.6L604.7 161.9L606.6 162.2L608.5 162.5L610.4 162.8L612.4 163.1L614.3 163.4L616.2 163.6L618.1 163.9L620.0 164.1L621.9 164.3L623.8 164.6L625.8 164.8L627.7 165.0L629.6 165.2L631.5 165.3L633.4 165.5L635.3 165.7L637.2 165.8L639.1 165.9L641.1 166.1L643.0 166.2L644.9 166.3L646.8 166.4L648.7 166.5L650.6 166.5L652.5 166.6L654.5 166.6L656.4 166.7L658.3 166.7L660.2 166.7L662.1 166.8L664.0 166.8L665.9 166.7L667.8 166.7L669.8 166.7L671.7 166.6L673.6 166.6L675.5 166.5L677.4 166.5L679.3 166.4L681.2 166.3L683.2 166.2L685.1 166.1L687.0 165.9L688.9 165.8L690.8 165.6L692.7 165.5L694.6 165.3L696.5 165.1L698.5 164.9L700.4 164.7L702.3 164.5L704.2 164.3L706.1 164.1L708.0 163.8L709.9 163.6L711.9 163.3L713.8 163.0L715.7 162.7L717.6 162.4L719.5 162.1L721.4 161.8L723.3 161.5L725.2 161.1L727.2 160.8L729.1 160.4L731.0 160.0L732.9 159.6L734.8 159.2L736.7 158.8L738.6 158.4L740.6 157.9L742.5 157.5L744.4 157.0L746.3 156.6L748.2 156.1L750.1 155.5L752.0 154.9L754.0 154.2L755.9 153.6L757.8 153.0L759.7 152.4L761.6 151.8L763.5 151.2L765.4 150.5L767.3 149.9L769.3 149.3L771.2 148.7L773.1 148.1L775.0 147.5L776.9 146.8L778.8 146.2L780.7 145.6L782.7 145.0L784.6 144.4L786.5 143.8L788.4 143.1L790.3 142.5L792.2 141.9L794.1 141.3" fill="none" stroke="#06b606" stroke-width="1.45" stroke-linejoin="round"/>
<path d="M105.3 124.4L107.2 125.1L109.1 125.8L111.0 126.5L113.0 127.1L114.9 127.8L116.8 128.5L118.7 129.2L120.6 129.8L122.5 130.5L124.4 131.1L126.4 131.8L128.3 132.4L130.2 133.1L132.1 133.7L134.0 134.3L135.9 134.9L137.8 135.6L139.7 136.2L141.7 136.8L143.6 137.4L145.5 138.0L147.4 138.6L149.3 139.2L151.2 139.8L153.1 140.3L155.1 140.8L157.0 141.4L158.9 141.9L160.8 142.4L162.7 142.8L164.6 143.3L166.5 143.8L168.5 144.2L170.4 144.7L172.3 145.1L174.2 145.5L176.1 145.9L178.0 146.3L179.9 146.7L181.8 147.1L183.8 147.4L185.7 147.8L187.6 148.1L189.5 148.4L191.4 148.8L193.3 149.1L195.2 149.4L197.2 149.6L199.1 149.9L201.0 150.2L202.9 150.4L204.8 150.7L206.7 150.9L208.6 151.1L210.5 151.3L212.5 151.5L214.4 151.7L216.3 151.9L218.2 152.1L220.1 152.2L222.0 152.4L223.9 152.5L225.9 152.6L227.8 152.7L229.7 152.8L231.6 152.9L233.5 153.0L235.4 153.1L237.3 153.1L239.2 153.2L241.2 153.2L243.1 153.3L245.0 153.3L246.9 153.3L248.8 153.3L250.7 153.3L252.6 153.3L254.6 153.2L256.5 153.2L258.4 153.2L260.3 153.1L262.2 153.0L264.1 153.0L266.0 152.9L267.9 152.8L269.9 152.7L271.8 152.5L273.7 152.4L275.6 152.3L277.5 152.1L279.4 152.0L281.3 151.8L283.3 151.6L285.2 151.4L287.1 151.2L289.0 151.0L290.9 150.8L292.8 150.6L294.7 150.4L296.6 150.1L298.6 149.9L300.5 149.6L302.4 149.3L304.3 149.1L306.2 148.8L308.1 148.5L310.0 148.2L312.0 147.8L313.9 147.5L315.8 147.2L317.7 146.8L319.6 146.5L321.5 146.1L323.4 145.7L325.3 145.3L327.3 145.0L329.2 144.6L331.1 144.1L333.0 143.7L334.9 143.3L336.8 142.9L338.7 142.4L340.7 142.0L342.6 141.5L344.5 141.0L346.4 140.6L348.3 140.1L350.2 139.6L352.1 139.1L354.1 138.5L356.0 138.0L357.9 137.5L359.8 136.9L361.7 136.4L363.6 135.8L365.5 135.3L367.4 134.7L369.4 134.1L371.3 133.5L373.2 132.9L375.1 132.3L377.0 131.7L378.9 131.1L380.8 130.4L382.8 129.8L384.7 129.1L386.6 128.5L388.5 127.8L390.4 127.1L392.3 126.5L394.2 125.8L396.1 125.1L398.1 124.4L400.0 123.6L401.9 122.9L403.8 122.2L405.7 121.4L407.6 120.7L409.5 119.9L411.5 119.2L413.4 118.4L415.3 117.6L417.2 116.8L419.1 116.1L421.0 115.2L422.9 114.4L424.8 113.6L426.8 112.8L428.7 112.0L430.6 111.1L432.5 110.3L434.4 109.4L436.3 108.6L438.2 107.7L440.2 106.8L442.1 105.9L444.0 105.0L445.9 104.1L447.8 103.2L449.7 102.3L451.6 103.2L453.5 104.1L455.5 105.0L457.4 105.9L459.3 106.8L461.2 107.7L463.1 108.6L465.0 109.4L466.9 110.3L468.9 111.1L470.8 112.0L472.7 112.8L474.6 113.6L476.5 114.4L478.4 115.2L480.3 116.1L482.2 116.8L484.2 117.6L486.1 118.4L488.0 119.2L489.9 119.9L491.8 120.7L493.7 121.4L495.6 122.2L497.6 122.9L499.5 123.6L501.4 124.4L503.3 125.1L505.2 125.8L507.1 126.5L509.0 127.1L510.9 127.8L512.9 128.5L514.8 129.1L516.7 129.8L518.6 130.4L520.5 131.1L522.4 131.7L524.3 132.3L526.3 132.9L528.2 133.5L530.1 134.1L532.0 134.7L533.9 135.3L535.8 135.8L537.7 136.4L539.6 136.9L541.6 137.5L543.5 138.0L545.4 138.5L547.3 139.1L549.2 139.6L551.1 140.1L553.0 140.6L555.0 141.0L556.9 141.5L558.8 142.0L560.7 142.4L562.6 142.9L564.5 143.3L566.4 143.7L568.4 144.1L570.3 144.6L572.2 145.0L574.1 145.3L576.0 145.7L577.9 146.1L579.8 146.5L581.7 146.8L583.7 147.2L585.6 147.5L587.5 147.8L589.4 148.2L591.3 148.5L593.2 148.8L595.1 149.1L597.1 149.3L599.0 149.6L600.9 149.9L602.8 150.1L604.7 150.4L606.6 150.6L608.5 150.8L610.4 151.0L612.4 151.2L614.3 151.4L616.2 151.6L618.1 151.8L620.0 152.0L621.9 152.1L623.8 152.3L625.8 152.4L627.7 152.5L629.6 152.7L631.5 152.8L633.4 152.9L635.3 153.0L637.2 153.0L639.1 153.1L641.1 153.2L643.0 153.2L644.9 153.2L646.8 153.3L648.7 153.3L650.6 153.3L652.5 153.3L654.5 153.3L656.4 153.3L658.3 153.2L660.2 153.2L662.1 153.1L664.0 153.1L665.9 153.0L667.8 152.9L669.8 152.8L671.7 152.7L673.6 152.6L675.5 152.5L677.4 152.4L679.3 152.2L681.2 152.1L683.2 151.9L685.1 151.7L687.0 151.5L688.9 151.3L690.8 151.1L692.7 150.9L694.6 150.7L696.5 150.4L698.5 150.2L700.4 149.9L702.3 149.6L704.2 149.4L706.1 149.1L708.0 148.8L709.9 148.4L711.9 148.1L713.8 147.8L715.7 147.4L717.6 147.1L719.5 146.7L721.4 146.3L723.3 145.9L725.2 145.5L727.2 145.1L729.1 144.7L731.0 144.2L732.9 143.8L734.8 143.3L736.7 142.8L738.6 142.4L740.6 141.9L742.5 141.4L744.4 140.8L746.3 140.3L748.2 139.8L750.1 139.2L752.0 138.6L754.0 138.0L755.9 137.4L757.8 136.8L759.7 136.2L761.6 135.6L763.5 134.9L765.4 134.3L767.3 133.7L769.3 133.1L771.2 132.4L773.1 131.8L775.0 131.1L776.9 130.5L778.8 129.8L780.7 129.2L782.7 128.5L784.6 127.8L786.5 127.1L788.4 126.5L790.3 125.8L792.2 125.1L794.1 124.4" fill="none" stroke="#06b606" stroke-width="0.95" stroke-linejoin="round" stroke-dasharray="23 11.7" stroke-dashoffset="0"/>
<path d="M105.3 221.5L107.2 222.0L109.1 222.5L111.0 222.9L113.0 223.4L114.9 223.9L116.8 224.3L118.7 224.8L120.6 225.2L122.5 225.7L124.4 226.1L126.4 226.5L128.3 227.0L130.2 227.4L132.1 227.8L134.0 228.2L135.9 228.6L137.8 229.1L139.7 229.5L141.7 229.9L143.6 230.3L145.5 230.7L147.4 231.0L149.3 231.4L151.2 231.8L153.1 232.1L155.1 232.4L157.0 232.7L158.9 233.0L160.8 233.2L162.7 233.5L164.6 233.7L166.5 233.9L168.5 234.1L170.4 234.3L172.3 234.4L174.2 234.6L176.1 234.7L178.0 234.8L179.9 234.9L181.8 235.0L183.8 235.1L185.7 235.2L187.6 235.2L189.5 235.3L191.4 235.3L193.3 235.3L195.2 235.3L197.2 235.3L199.1 235.3L201.0 235.3L202.9 235.3L204.8 235.2L206.7 235.1L208.6 235.1L210.5 235.0L212.5 234.9L214.4 234.8L216.3 234.6L218.2 234.5L220.1 234.4L222.0 234.2L223.9 234.1L225.9 233.9L227.8 233.7L229.7 233.5L231.6 233.3L233.5 233.1L235.4 232.9L237.3 232.6L239.2 232.4L241.2 232.1L243.1 231.8L245.0 231.5L246.9 231.2L248.8 230.9L250.7 230.6L252.6 230.3L254.6 229.9L256.5 229.6L258.4 229.2L260.3 228.8L262.2 228.4L264.1 228.0L266.0 227.6L267.9 227.1L269.9 226.7L271.8 226.2L273.7 225.7L275.6 225.2L277.5 224.7L279.4 224.2L281.3 223.7L283.3 223.1L285.2 222.5L287.1 222.0L289.0 221.4L290.9 220.8L292.8 220.1L294.7 219.5L296.6 218.8L298.6 218.2L300.5 217.5L302.4 216.8L304.3 216.1L306.2 215.3L308.1 214.6L310.0 213.8L312.0 213.0L313.9 212.2L315.8 211.4L317.7 210.6L319.6 209.8L321.5 208.9L323.4 208.0L325.3 207.2L327.3 206.3L329.2 205.3L331.1 204.4L333.0 203.5L334.9 202.5L336.8 201.5L338.7 200.5L340.7 199.5L342.6 198.5L344.5 197.4L346.4 196.4L348.3 195.3L350.2 194.2L352.1 193.1L354.1 192.0L356.0 190.8L357.9 189.7L359.8 188.5L361.7 187.3L363.6 186.1L365.5 184.9L367.4 183.7L369.4 182.4L371.3 181.1L373.2 179.9L375.1 178.6L377.0 177.3L378.9 175.9L380.8 174.6L382.8 173.2L384.7 171.8L386.6 170.5L388.5 169.0L390.4 167.6L392.3 166.2L394.2 164.7L396.1 163.2L398.1 161.8L400.0 160.3L401.9 158.7L403.8 157.2L405.7 155.7L407.6 154.1L409.5 152.5L411.5 151.0L413.4 149.4L415.3 147.8L417.2 146.1L419.1 144.5L421.0 142.9L422.9 141.2L424.8 139.5L426.8 137.9L428.7 136.2L430.6 134.5L432.5 132.8L434.4 131.0L436.3 129.3L438.2 127.6L440.2 125.8L442.1 124.1L444.0 122.3L445.9 120.6L447.8 118.8L449.7 117.0L451.6 118.8L453.5 120.6L455.5 122.3L457.4 124.1L459.3 125.8L461.2 127.6L463.1 129.3L465.0 131.0L466.9 132.8L468.9 134.5L470.8 136.2L472.7 137.9L474.6 139.5L476.5 141.2L478.4 142.9L480.3 144.5L482.2 146.1L484.2 147.8L486.1 149.4L488.0 151.0L489.9 152.5L491.8 154.1L493.7 155.7L495.6 157.2L497.6 158.7L499.5 160.3L501.4 161.8L503.3 163.2L505.2 164.7L507.1 166.2L509.0 167.6L510.9 169.0L512.9 170.5L514.8 171.8L516.7 173.2L518.6 174.6L520.5 175.9L522.4 177.3L524.3 178.6L526.3 179.9L528.2 181.1L530.1 182.4L532.0 183.7L533.9 184.9L535.8 186.1L537.7 187.3L539.6 188.5L541.6 189.7L543.5 190.8L545.4 192.0L547.3 193.1L549.2 194.2L551.1 195.3L553.0 196.4L555.0 197.4L556.9 198.5L558.8 199.5L560.7 200.5L562.6 201.5L564.5 202.5L566.4 203.5L568.4 204.4L570.3 205.3L572.2 206.3L574.1 207.2L576.0 208.0L577.9 208.9L579.8 209.8L581.7 210.6L583.7 211.4L585.6 212.2L587.5 213.0L589.4 213.8L591.3 214.6L593.2 215.3L595.1 216.1L597.1 216.8L599.0 217.5L600.9 218.2L602.8 218.8L604.7 219.5L606.6 220.1L608.5 220.8L610.4 221.4L612.4 222.0L614.3 222.5L616.2 223.1L618.1 223.7L620.0 224.2L621.9 224.7L623.8 225.2L625.8 225.7L627.7 226.2L629.6 226.7L631.5 227.1L633.4 227.6L635.3 228.0L637.2 228.4L639.1 228.8L641.1 229.2L643.0 229.6L644.9 229.9L646.8 230.3L648.7 230.6L650.6 230.9L652.5 231.2L654.5 231.5L656.4 231.8L658.3 232.1L660.2 232.4L662.1 232.6L664.0 232.9L665.9 233.1L667.8 233.3L669.8 233.5L671.7 233.7L673.6 233.9L675.5 234.1L677.4 234.2L679.3 234.4L681.2 234.5L683.2 234.6L685.1 234.8L687.0 234.9L688.9 235.0L690.8 235.1L692.7 235.1L694.6 235.2L696.5 235.3L698.5 235.3L700.4 235.3L702.3 235.3L704.2 235.3L706.1 235.3L708.0 235.3L709.9 235.3L711.9 235.2L713.8 235.2L715.7 235.1L717.6 235.0L719.5 234.9L721.4 234.8L723.3 234.7L725.2 234.6L727.2 234.4L729.1 234.3L731.0 234.1L732.9 233.9L734.8 233.7L736.7 233.5L738.6 233.2L740.6 233.0L742.5 232.7L744.4 232.4L746.3 232.1L748.2 231.8L750.1 231.4L752.0 231.0L754.0 230.7L755.9 230.3L757.8 229.9L759.7 229.5L761.6 229.1L763.5 228.6L765.4 228.2L767.3 227.8L769.3 227.4L771.2 227.0L773.1 226.5L775.0 226.1L776.9 225.7L778.8 225.2L780.7 224.8L782.7 224.3L784.6 223.9L786.5 223.4L788.4 222.9L790.3 222.5L792.2 222.0L794.1 221.5" fill="none" stroke="#06b606" stroke-width="0.95" stroke-linejoin="round" stroke-dasharray="23 11.7" stroke-dashoffset="0"/>
<path d="M105.3 276.6L107.2 276.9L109.1 277.2L111.0 277.5L113.0 277.8L114.9 278.1L116.8 278.4L118.7 278.7L120.6 279.0L122.5 279.3L124.4 279.5L126.4 279.8L128.3 280.1L130.2 280.3L132.1 280.6L134.0 280.8L135.9 281.1L137.8 281.3L139.7 281.5L141.7 281.7L143.6 282.0L145.5 282.2L147.4 282.4L149.3 282.6L151.2 282.8L153.1 282.9L155.1 283.1L157.0 283.2L158.9 283.3L160.8 283.4L162.7 283.5L164.6 283.5L166.5 283.6L168.5 283.6L170.4 283.6L172.3 283.6L174.2 283.6L176.1 283.6L178.0 283.6L179.9 283.5L181.8 283.4L183.8 283.4L185.7 283.3L187.6 283.2L189.5 283.0L191.4 282.9L193.3 282.7L195.2 282.6L197.2 282.4L199.1 282.2L201.0 282.0L202.9 281.8L204.8 281.5L206.7 281.3L208.6 281.0L210.5 280.8L212.5 280.5L214.4 280.2L216.3 279.9L218.2 279.5L220.1 279.2L222.0 278.8L223.9 278.5L225.9 278.1L227.8 277.7L229.7 277.3L231.6 276.8L233.5 276.4L235.4 275.9L237.3 275.5L239.2 275.0L241.2 274.5L243.1 274.0L245.0 273.5L246.9 273.0L248.8 272.4L250.7 271.9L252.6 271.3L254.6 270.7L256.5 270.1L258.4 269.5L260.3 268.9L262.2 268.2L264.1 267.6L266.0 266.9L267.9 266.2L269.9 265.6L271.8 264.9L273.7 264.1L275.6 263.4L277.5 262.7L279.4 261.9L281.3 261.2L283.3 260.4L285.2 259.6L287.1 258.8L289.0 258.0L290.9 257.1L292.8 256.3L294.7 255.4L296.6 254.6L298.6 253.7L300.5 252.8L302.4 251.9L304.3 251.0L306.2 250.0L308.1 249.1L310.0 248.1L312.0 247.1L313.9 246.1L315.8 245.1L317.7 244.1L319.6 243.0L321.5 242.0L323.4 240.9L325.3 239.8L327.3 238.6L329.2 237.5L331.1 236.3L333.0 235.1L334.9 233.9L336.8 232.7L338.7 231.5L340.7 230.2L342.6 228.9L344.5 227.6L346.4 226.2L348.3 224.9L350.2 223.5L352.1 222.1L354.1 220.6L356.0 219.1L357.9 217.7L359.8 216.1L361.7 214.6L363.6 213.0L365.5 211.4L367.4 209.8L369.4 208.1L371.3 206.5L373.2 204.7L375.1 203.0L377.0 201.2L378.9 199.4L380.8 197.6L382.8 195.7L384.7 193.9L386.6 191.9L388.5 190.0L390.4 188.0L392.3 186.0L394.2 183.9L396.1 181.9L398.1 179.8L400.0 177.6L401.9 175.5L403.8 173.3L405.7 171.1L407.6 168.9L409.5 166.7L411.5 164.4L413.4 162.1L415.3 159.8L417.2 157.5L419.1 155.2L421.0 152.9L422.9 150.6L424.8 148.2L426.8 145.9L428.7 143.5L430.6 141.2L432.5 138.8L434.4 136.4L436.3 134.0L438.2 131.7L440.2 129.3L442.1 126.9L444.0 124.6L445.9 122.2L447.8 119.8L449.7 117.5L451.6 119.8L453.5 122.2L455.5 124.6L457.4 126.9L459.3 129.3L461.2 131.7L463.1 134.0L465.0 136.4L466.9 138.8L468.9 141.2L470.8 143.5L472.7 145.9L474.6 148.2L476.5 150.6L478.4 152.9L480.3 155.2L482.2 157.5L484.2 159.8L486.1 162.1L488.0 164.4L489.9 166.7L491.8 168.9L493.7 171.1L495.6 173.3L497.6 175.5L499.5 177.6L501.4 179.8L503.3 181.9L505.2 183.9L507.1 186.0L509.0 188.0L510.9 190.0L512.9 191.9L514.8 193.9L516.7 195.7L518.6 197.6L520.5 199.4L522.4 201.2L524.3 203.0L526.3 204.7L528.2 206.5L530.1 208.1L532.0 209.8L533.9 211.4L535.8 213.0L537.7 214.6L539.6 216.1L541.6 217.7L543.5 219.1L545.4 220.6L547.3 222.1L549.2 223.5L551.1 224.9L553.0 226.2L555.0 227.6L556.9 228.9L558.8 230.2L560.7 231.5L562.6 232.7L564.5 233.9L566.4 235.1L568.4 236.3L570.3 237.5L572.2 238.6L574.1 239.8L576.0 240.9L577.9 242.0L579.8 243.0L581.7 244.1L583.7 245.1L585.6 246.1L587.5 247.1L589.4 248.1L591.3 249.1L593.2 250.0L595.1 251.0L597.1 251.9L599.0 252.8L600.9 253.7L602.8 254.6L604.7 255.4L606.6 256.3L608.5 257.1L610.4 258.0L612.4 258.8L614.3 259.6L616.2 260.4L618.1 261.2L620.0 261.9L621.9 262.7L623.8 263.4L625.8 264.1L627.7 264.9L629.6 265.6L631.5 266.2L633.4 266.9L635.3 267.6L637.2 268.2L639.1 268.9L641.1 269.5L643.0 270.1L644.9 270.7L646.8 271.3L648.7 271.9L650.6 272.4L652.5 273.0L654.5 273.5L656.4 274.0L658.3 274.5L660.2 275.0L662.1 275.5L664.0 275.9L665.9 276.4L667.8 276.8L669.8 277.3L671.7 277.7L673.6 278.1L675.5 278.5L677.4 278.8L679.3 279.2L681.2 279.5L683.2 279.9L685.1 280.2L687.0 280.5L688.9 280.8L690.8 281.0L692.7 281.3L694.6 281.5L696.5 281.8L698.5 282.0L700.4 282.2L702.3 282.4L704.2 282.6L706.1 282.7L708.0 282.9L709.9 283.0L711.9 283.2L713.8 283.3L715.7 283.4L717.6 283.4L719.5 283.5L721.4 283.6L723.3 283.6L725.2 283.6L727.2 283.6L729.1 283.6L731.0 283.6L732.9 283.6L734.8 283.5L736.7 283.5L738.6 283.4L740.6 283.3L742.5 283.2L744.4 283.1L746.3 282.9L748.2 282.8L750.1 282.6L752.0 282.4L754.0 282.2L755.9 282.0L757.8 281.7L759.7 281.5L761.6 281.3L763.5 281.1L765.4 280.8L767.3 280.6L769.3 280.3L771.2 280.1L773.1 279.8L775.0 279.5L776.9 279.3L778.8 279.0L780.7 278.7L782.7 278.4L784.6 278.1L786.5 277.8L788.4 277.5L790.3 277.2L792.2 276.9L794.1 276.6" fill="none" stroke="#bb0505" stroke-width="1.45" stroke-linejoin="round"/>
<path d="M105.3 230.3L107.2 230.7L109.1 231.1L111.0 231.4L113.0 231.8L114.9 232.2L116.8 232.5L118.7 232.9L120.6 233.3L122.5 233.6L124.4 234.0L126.4 234.3L128.3 234.7L130.2 235.0L132.1 235.4L134.0 235.7L135.9 236.1L137.8 236.4L139.7 236.7L141.7 237.1L143.6 237.4L145.5 237.7L147.4 238.0L149.3 238.4L151.2 238.7L153.1 238.9L155.1 239.0L157.0 239.2L158.9 239.4L160.8 239.5L162.7 239.6L164.6 239.8L166.5 239.9L168.5 240.0L170.4 240.1L172.3 240.1L174.2 240.2L176.1 240.2L178.0 240.3L179.9 240.3L181.8 240.3L183.8 240.3L185.7 240.3L187.6 240.3L189.5 240.3L191.4 240.3L193.3 240.2L195.2 240.1L197.2 240.1L199.1 240.0L201.0 239.9L202.9 239.8L204.8 239.7L206.7 239.5L208.6 239.4L210.5 239.2L212.5 239.0L214.4 238.9L216.3 238.7L218.2 238.5L220.1 238.2L222.0 238.0L223.9 237.8L225.9 237.5L227.8 237.2L229.7 237.0L231.6 236.7L233.5 236.4L235.4 236.0L237.3 235.7L239.2 235.4L241.2 235.0L243.1 234.6L245.0 234.2L246.9 233.8L248.8 233.4L250.7 233.0L252.6 232.6L254.6 232.1L256.5 231.7L258.4 231.2L260.3 230.7L262.2 230.2L264.1 229.7L266.0 229.2L267.9 228.6L269.9 228.1L271.8 227.5L273.7 226.9L275.6 226.3L277.5 225.7L279.4 225.1L281.3 224.5L283.3 223.8L285.2 223.2L287.1 222.5L289.0 221.8L290.9 221.1L292.8 220.4L294.7 219.6L296.6 218.9L298.6 218.1L300.5 217.4L302.4 216.6L304.3 215.8L306.2 215.0L308.1 214.1L310.0 213.3L312.0 212.4L313.9 211.6L315.8 210.7L317.7 209.8L319.6 208.9L321.5 208.0L323.4 207.0L325.3 206.1L327.3 205.1L329.2 204.1L331.1 203.1L333.0 202.1L334.9 201.1L336.8 200.1L338.7 199.0L340.7 197.9L342.6 196.9L344.5 195.8L346.4 194.7L348.3 193.6L350.2 192.4L352.1 191.3L354.1 190.1L356.0 188.9L357.9 187.8L359.8 186.6L361.7 185.4L363.6 184.1L365.5 182.9L367.4 181.6L369.4 180.4L371.3 179.1L373.2 177.8L375.1 176.5L377.0 175.2L378.9 173.8L380.8 172.5L382.8 171.1L384.7 169.7L386.6 168.4L388.5 167.0L390.4 165.5L392.3 164.1L394.2 162.7L396.1 161.2L398.1 159.7L400.0 158.3L401.9 156.8L403.8 155.3L405.7 153.8L407.6 152.2L409.5 150.7L411.5 149.1L413.4 147.6L415.3 146.0L417.2 144.4L419.1 142.8L421.0 141.2L422.9 139.6L424.8 138.0L426.8 136.3L428.7 134.7L430.6 133.0L432.5 131.4L434.4 129.7L436.3 128.0L438.2 126.3L440.2 124.6L442.1 122.9L444.0 121.2L445.9 119.5L447.8 117.7L449.7 116.0L451.6 117.7L453.5 119.5L455.5 121.2L457.4 122.9L459.3 124.6L461.2 126.3L463.1 128.0L465.0 129.7L466.9 131.4L468.9 133.0L470.8 134.7L472.7 136.3L474.6 138.0L476.5 139.6L478.4 141.2L480.3 142.8L482.2 144.4L484.2 146.0L486.1 147.6L488.0 149.1L489.9 150.7L491.8 152.2L493.7 153.8L495.6 155.3L497.6 156.8L499.5 158.3L501.4 159.7L503.3 161.2L505.2 162.7L507.1 164.1L509.0 165.5L510.9 167.0L512.9 168.4L514.8 169.7L516.7 171.1L518.6 172.5L520.5 173.8L522.4 175.2L524.3 176.5L526.3 177.8L528.2 179.1L530.1 180.4L532.0 181.6L533.9 182.9L535.8 184.1L537.7 185.4L539.6 186.6L541.6 187.8L543.5 188.9L545.4 190.1L547.3 191.3L549.2 192.4L551.1 193.6L553.0 194.7L555.0 195.8L556.9 196.9L558.8 197.9L560.7 199.0L562.6 200.1L564.5 201.1L566.4 202.1L568.4 203.1L570.3 204.1L572.2 205.1L574.1 206.1L576.0 207.0L577.9 208.0L579.8 208.9L581.7 209.8L583.7 210.7L585.6 211.6L587.5 212.4L589.4 213.3L591.3 214.1L593.2 215.0L595.1 215.8L597.1 216.6L599.0 217.4L600.9 218.1L602.8 218.9L604.7 219.6L606.6 220.4L608.5 221.1L610.4 221.8L612.4 222.5L614.3 223.2L616.2 223.8L618.1 224.5L620.0 225.1L621.9 225.7L623.8 226.3L625.8 226.9L627.7 227.5L629.6 228.1L631.5 228.6L633.4 229.2L635.3 229.7L637.2 230.2L639.1 230.7L641.1 231.2L643.0 231.7L644.9 232.1L646.8 232.6L648.7 233.0L650.6 233.4L652.5 233.8L654.5 234.2L656.4 234.6L658.3 235.0L660.2 235.4L662.1 235.7L664.0 236.0L665.9 236.4L667.8 236.7L669.8 237.0L671.7 237.2L673.6 237.5L675.5 237.8L677.4 238.0L679.3 238.2L681.2 238.5L683.2 238.7L685.1 238.9L687.0 239.0L688.9 239.2L690.8 239.4L692.7 239.5L694.6 239.7L696.5 239.8L698.5 239.9L700.4 240.0L702.3 240.1L704.2 240.1L706.1 240.2L708.0 240.3L709.9 240.3L711.9 240.3L713.8 240.3L715.7 240.3L717.6 240.3L719.5 240.3L721.4 240.3L723.3 240.2L725.2 240.2L727.2 240.1L729.1 240.1L731.0 240.0L732.9 239.9L734.8 239.8L736.7 239.6L738.6 239.5L740.6 239.4L742.5 239.2L744.4 239.0L746.3 238.9L748.2 238.7L750.1 238.4L752.0 238.0L754.0 237.7L755.9 237.4L757.8 237.1L759.7 236.7L761.6 236.4L763.5 236.1L765.4 235.7L767.3 235.4L769.3 235.0L771.2 234.7L773.1 234.3L775.0 234.0L776.9 233.6L778.8 233.3L780.7 232.9L782.7 232.5L784.6 232.2L786.5 231.8L788.4 231.4L790.3 231.1L792.2 230.7L794.1 230.3" fill="none" stroke="#bb0505" stroke-width="0.95" stroke-linejoin="round" stroke-dasharray="23 11.7" stroke-dashoffset="0"/>
<path d="M105.3 299.5L107.2 299.8L109.1 300.1L111.0 300.3L113.0 300.6L114.9 300.9L116.8 301.1L118.7 301.4L120.6 301.6L122.5 301.9L124.4 302.1L126.4 302.3L128.3 302.5L130.2 302.8L132.1 303.0L134.0 303.2L135.9 303.4L137.8 303.6L139.7 303.8L141.7 304.0L143.6 304.2L145.5 304.4L147.4 304.6L149.3 304.7L151.2 304.9L153.1 305.0L155.1 305.0L157.0 305.0L158.9 305.1L160.8 305.1L162.7 305.1L164.6 305.1L166.5 305.1L168.5 305.0L170.4 305.0L172.3 304.9L174.2 304.9L176.1 304.8L178.0 304.7L179.9 304.6L181.8 304.5L183.8 304.3L185.7 304.2L187.6 304.1L189.5 303.9L191.4 303.7L193.3 303.5L195.2 303.3L197.2 303.1L199.1 302.9L201.0 302.6L202.9 302.4L204.8 302.1L206.7 301.8L208.6 301.6L210.5 301.2L212.5 300.9L214.4 300.6L216.3 300.3L218.2 299.9L220.1 299.5L222.0 299.1L223.9 298.7L225.9 298.3L227.8 297.9L229.7 297.5L231.6 297.0L233.5 296.5L235.4 296.0L237.3 295.5L239.2 295.0L241.2 294.5L243.1 294.0L245.0 293.4L246.9 292.8L248.8 292.3L250.7 291.7L252.6 291.0L254.6 290.4L256.5 289.8L258.4 289.1L260.3 288.4L262.2 287.7L264.1 287.0L266.0 286.3L267.9 285.6L269.9 284.8L271.8 284.1L273.7 283.3L275.6 282.5L277.5 281.7L279.4 280.8L281.3 280.0L283.3 279.1L285.2 278.2L287.1 277.4L289.0 276.4L290.9 275.5L292.8 274.6L294.7 273.6L296.6 272.6L298.6 271.6L300.5 270.6L302.4 269.6L304.3 268.6L306.2 267.5L308.1 266.4L310.0 265.3L312.0 264.2L313.9 263.1L315.8 261.9L317.7 260.7L319.6 259.5L321.5 258.3L323.4 257.1L325.3 255.8L327.3 254.5L329.2 253.2L331.1 251.9L333.0 250.5L334.9 249.1L336.8 247.7L338.7 246.3L340.7 244.8L342.6 243.3L344.5 241.8L346.4 240.3L348.3 238.7L350.2 237.1L352.1 235.5L354.1 233.9L356.0 232.2L357.9 230.5L359.8 228.7L361.7 227.0L363.6 225.2L365.5 223.4L367.4 221.5L369.4 219.6L371.3 217.7L373.2 215.8L375.1 213.8L377.0 211.8L378.9 209.8L380.8 207.7L382.8 205.6L384.7 203.5L386.6 201.4L388.5 199.2L390.4 197.0L392.3 194.7L394.2 192.5L396.1 190.2L398.1 187.9L400.0 185.5L401.9 183.2L403.8 180.8L405.7 178.4L407.6 175.9L409.5 173.4L411.5 171.0L413.4 168.4L415.3 165.9L417.2 163.4L419.1 160.8L421.0 158.2L422.9 155.6L424.8 153.0L426.8 150.4L428.7 147.7L430.6 145.1L432.5 142.4L434.4 139.7L436.3 137.0L438.2 134.3L440.2 131.6L442.1 128.9L444.0 126.2L445.9 123.5L447.8 120.7L449.7 118.0L451.6 120.7L453.5 123.5L455.5 126.2L457.4 128.9L459.3 131.6L461.2 134.3L463.1 137.0L465.0 139.7L466.9 142.4L468.9 145.1L470.8 147.7L472.7 150.4L474.6 153.0L476.5 155.6L478.4 158.2L480.3 160.8L482.2 163.4L484.2 165.9L486.1 168.4L488.0 171.0L489.9 173.4L491.8 175.9L493.7 178.4L495.6 180.8L497.6 183.2L499.5 185.5L501.4 187.9L503.3 190.2L505.2 192.5L507.1 194.7L509.0 197.0L510.9 199.2L512.9 201.4L514.8 203.5L516.7 205.6L518.6 207.7L520.5 209.8L522.4 211.8L524.3 213.8L526.3 215.8L528.2 217.7L530.1 219.6L532.0 221.5L533.9 223.4L535.8 225.2L537.7 227.0L539.6 228.7L541.6 230.5L543.5 232.2L545.4 233.9L547.3 235.5L549.2 237.1L551.1 238.7L553.0 240.3L555.0 241.8L556.9 243.3L558.8 244.8L560.7 246.3L562.6 247.7L564.5 249.1L566.4 250.5L568.4 251.9L570.3 253.2L572.2 254.5L574.1 255.8L576.0 257.1L577.9 258.3L579.8 259.5L581.7 260.7L583.7 261.9L585.6 263.1L587.5 264.2L589.4 265.3L591.3 266.4L593.2 267.5L595.1 268.6L597.1 269.6L599.0 270.6L600.9 271.6L602.8 272.6L604.7 273.6L606.6 274.6L608.5 275.5L610.4 276.4L612.4 277.4L614.3 278.2L616.2 279.1L618.1 280.0L620.0 280.8L621.9 281.7L623.8 282.5L625.8 283.3L627.7 284.1L629.6 284.8L631.5 285.6L633.4 286.3L635.3 287.0L637.2 287.7L639.1 288.4L641.1 289.1L643.0 289.8L644.9 290.4L646.8 291.0L648.7 291.7L650.6 292.3L652.5 292.8L654.5 293.4L656.4 294.0L658.3 294.5L660.2 295.0L662.1 295.5L664.0 296.0L665.9 296.5L667.8 297.0L669.8 297.5L671.7 297.9L673.6 298.3L675.5 298.7L677.4 299.1L679.3 299.5L681.2 299.9L683.2 300.3L685.1 300.6L687.0 300.9L688.9 301.2L690.8 301.6L692.7 301.8L694.6 302.1L696.5 302.4L698.5 302.6L700.4 302.9L702.3 303.1L704.2 303.3L706.1 303.5L708.0 303.7L709.9 303.9L711.9 304.1L713.8 304.2L715.7 304.3L717.6 304.5L719.5 304.6L721.4 304.7L723.3 304.8L725.2 304.9L727.2 304.9L729.1 305.0L731.0 305.0L732.9 305.1L734.8 305.1L736.7 305.1L738.6 305.1L740.6 305.1L742.5 305.0L744.4 305.0L746.3 305.0L748.2 304.9L750.1 304.7L752.0 304.6L754.0 304.4L755.9 304.2L757.8 304.0L759.7 303.8L761.6 303.6L763.5 303.4L765.4 303.2L767.3 303.0L769.3 302.8L771.2 302.5L773.1 302.3L775.0 302.1L776.9 301.9L778.8 301.6L780.7 301.4L782.7 301.1L784.6 300.9L786.5 300.6L788.4 300.3L790.3 300.1L792.2 299.8L794.1 299.5" fill="none" stroke="#bb0505" stroke-width="0.95" stroke-linejoin="round" stroke-dasharray="23 11.7" stroke-dashoffset="0"/>
<path d="M105.3 429.3L107.2 429.3L109.1 429.3L111.0 429.3L113.0 429.3L114.9 429.3L116.8 429.3L118.7 429.3L120.6 429.3L122.5 429.3L124.4 429.3L126.4 429.3L128.3 429.3L130.2 429.3L132.1 429.3L134.0 429.3L135.9 429.3L137.8 429.3L139.7 429.3L141.7 429.3L143.6 429.3L145.5 429.3L147.4 429.3L149.3 429.3L151.2 429.3L153.1 429.0L155.1 428.7L157.0 428.4L158.9 428.1L160.8 427.8L162.7 427.4L164.6 427.1L166.5 426.8L168.5 426.4L170.4 426.1L172.3 425.7L174.2 425.3L176.1 424.9L178.0 424.6L179.9 424.1L181.8 423.7L183.8 423.3L185.7 422.9L187.6 422.4L189.5 422.0L191.4 421.5L193.3 421.1L195.2 420.6L197.2 420.1L199.1 419.6L201.0 419.0L202.9 418.5L204.8 418.0L206.7 417.4L208.6 416.9L210.5 416.3L212.5 415.7L214.4 415.1L216.3 414.4L218.2 413.8L220.1 413.2L222.0 412.5L223.9 411.8L225.9 411.1L227.8 410.4L229.7 409.7L231.6 409.0L233.5 408.2L235.4 407.4L237.3 406.7L239.2 405.9L241.2 405.0L243.1 404.2L245.0 403.4L246.9 402.5L248.8 401.6L250.7 400.7L252.6 399.8L254.6 398.8L256.5 397.9L258.4 396.9L260.3 395.9L262.2 394.9L264.1 393.9L266.0 392.8L267.9 391.7L269.9 390.7L271.8 389.5L273.7 388.4L275.6 387.3L277.5 386.1L279.4 384.9L281.3 383.7L283.3 382.5L285.2 381.2L287.1 379.9L289.0 378.6L290.9 377.3L292.8 376.0L294.7 374.6L296.6 373.2L298.6 371.8L300.5 370.4L302.4 368.9L304.3 367.4L306.2 365.9L308.1 364.3L310.0 362.8L312.0 361.2L313.9 359.5L315.8 357.9L317.7 356.2L319.6 354.5L321.5 352.7L323.4 350.9L325.3 349.1L327.3 347.2L329.2 345.3L331.1 343.3L333.0 341.4L334.9 339.3L336.8 337.3L338.7 335.2L340.7 333.0L342.6 330.8L344.5 328.6L346.4 326.3L348.3 323.9L350.2 321.6L352.1 319.1L354.1 316.6L356.0 314.1L357.9 311.5L359.8 308.9L361.7 306.2L363.6 303.5L365.5 300.7L367.4 297.8L369.4 294.9L371.3 291.9L373.2 288.9L375.1 285.8L377.0 282.6L378.9 279.4L380.8 276.1L382.8 272.8L384.7 269.4L386.6 265.9L388.5 262.4L390.4 258.8L392.3 255.1L394.2 251.4L396.1 247.6L398.1 243.7L400.0 239.7L401.9 235.6L403.8 231.5L405.7 227.3L407.6 223.0L409.5 218.6L411.5 214.2L413.4 209.6L415.3 205.0L417.2 200.3L419.1 195.5L421.0 190.5L422.9 185.5L424.8 180.5L426.8 175.3L428.7 170.2L430.6 165.0L432.5 159.9L434.4 154.7L436.3 149.7L438.2 144.7L440.2 139.8L442.1 135.0L444.0 130.3L445.9 125.8L447.8 121.4L449.7 117.3L451.6 121.4L453.5 125.8L455.5 130.3L457.4 135.0L459.3 139.8L461.2 144.7L463.1 149.7L465.0 154.7L466.9 159.9L468.9 165.0L470.8 170.2L472.7 175.3L474.6 180.5L476.5 185.5L478.4 190.5L480.3 195.5L482.2 200.3L484.2 205.0L486.1 209.6L488.0 214.2L489.9 218.6L491.8 223.0L493.7 227.3L495.6 231.5L497.6 235.6L499.5 239.7L501.4 243.7L503.3 247.6L505.2 251.4L507.1 255.1L509.0 258.8L510.9 262.4L512.9 265.9L514.8 269.4L516.7 272.8L518.6 276.1L520.5 279.4L522.4 282.6L524.3 285.8L526.3 288.9L528.2 291.9L530.1 294.9L532.0 297.8L533.9 300.7L535.8 303.5L537.7 306.2L539.6 308.9L541.6 311.5L543.5 314.1L545.4 316.6L547.3 319.1L549.2 321.6L551.1 323.9L553.0 326.3L555.0 328.6L556.9 330.8L558.8 333.0L560.7 335.2L562.6 337.3L564.5 339.3L566.4 341.4L568.4 343.3L570.3 345.3L572.2 347.2L574.1 349.1L576.0 350.9L577.9 352.7L579.8 354.5L581.7 356.2L583.7 357.9L585.6 359.5L587.5 361.2L589.4 362.8L591.3 364.3L593.2 365.9L595.1 367.4L597.1 368.9L599.0 370.4L600.9 371.8L602.8 373.2L604.7 374.6L606.6 376.0L608.5 377.3L610.4 378.6L612.4 379.9L614.3 381.2L616.2 382.5L618.1 383.7L620.0 384.9L621.9 386.1L623.8 387.3L625.8 388.4L627.7 389.5L629.6 390.7L631.5 391.7L633.4 392.8L635.3 393.9L637.2 394.9L639.1 395.9L641.1 396.9L643.0 397.9L644.9 398.8L646.8 399.8L648.7 400.7L650.6 401.6L652.5 402.5L654.5 403.4L656.4 404.2L658.3 405.0L660.2 405.9L662.1 406.7L664.0 407.4L665.9 408.2L667.8 409.0L669.8 409.7L671.7 410.4L673.6 411.1L675.5 411.8L677.4 412.5L679.3 413.2L681.2 413.8L683.2 414.4L685.1 415.1L687.0 415.7L688.9 416.3L690.8 416.9L692.7 417.4L694.6 418.0L696.5 418.5L698.5 419.0L700.4 419.6L702.3 420.1L704.2 420.6L706.1 421.1L708.0 421.5L709.9 422.0L711.9 422.4L713.8 422.9L715.7 423.3L717.6 423.7L719.5 424.1L721.4 424.6L723.3 424.9L725.2 425.3L727.2 425.7L729.1 426.1L731.0 426.4L732.9 426.8L734.8 427.1L736.7 427.4L738.6 427.8L740.6 428.1L742.5 428.4L744.4 428.7L746.3 429.0L748.2 429.3L750.1 429.3L752.0 429.3L754.0 429.3L755.9 429.3L757.8 429.3L759.7 429.3L761.6 429.3L763.5 429.3L765.4 429.3L767.3 429.3L769.3 429.3L771.2 429.3L773.1 429.3L775.0 429.3L776.9 429.3L778.8 429.3L780.7 429.3L782.7 429.3L784.6 429.3L786.5 429.3L788.4 429.3L790.3 429.3L792.2 429.3L794.1 429.3" fill="none" stroke="#0505bd" stroke-width="1.45" stroke-linejoin="round"/>
<path d="M105.3 413.3L107.2 413.3L109.1 413.3L111.0 413.3L113.0 413.3L114.9 413.3L116.8 413.3L118.7 413.3L120.6 413.3L122.5 413.3L124.4 413.3L126.4 413.3L128.3 413.3L130.2 413.3L132.1 413.3L134.0 413.3L135.9 413.3L137.8 413.3L139.7 413.3L141.7 413.3L143.6 413.3L145.5 413.3L147.4 413.3L149.3 413.3L151.2 413.3L153.1 413.0L155.1 412.7L157.0 412.3L158.9 412.0L160.8 411.7L162.7 411.3L164.6 411.0L166.5 410.6L168.5 410.3L170.4 409.9L172.3 409.6L174.2 409.2L176.1 408.9L178.0 408.5L179.9 408.1L181.8 407.7L183.8 407.3L185.7 406.9L187.6 406.5L189.5 406.1L191.4 405.7L193.3 405.3L195.2 404.8L197.2 404.4L199.1 403.9L201.0 403.4L202.9 403.0L204.8 402.5L206.7 402.0L208.6 401.5L210.5 400.9L212.5 400.4L214.4 399.9L216.3 399.3L218.2 398.7L220.1 398.2L222.0 397.6L223.9 396.9L225.9 396.3L227.8 395.7L229.7 395.0L231.6 394.3L233.5 393.7L235.4 393.0L237.3 392.2L239.2 391.5L241.2 390.7L243.1 390.0L245.0 389.2L246.9 388.4L248.8 387.6L250.7 386.7L252.6 385.9L254.6 385.0L256.5 384.1L258.4 383.1L260.3 382.2L262.2 381.2L264.1 380.3L266.0 379.3L267.9 378.2L269.9 377.2L271.8 376.1L273.7 375.0L275.6 373.9L277.5 372.8L279.4 371.6L281.3 370.4L283.3 369.2L285.2 368.0L287.1 366.7L289.0 365.4L290.9 364.1L292.8 362.8L294.7 361.4L296.6 360.0L298.6 358.6L300.5 357.1L302.4 355.7L304.3 354.2L306.2 352.6L308.1 351.1L310.0 349.5L312.0 347.9L313.9 346.2L315.8 344.5L317.7 342.8L319.6 341.1L321.5 339.3L323.4 337.5L325.3 335.7L327.3 333.8L329.2 331.9L331.1 330.0L333.0 328.0L334.9 326.0L336.8 324.0L338.7 321.9L340.7 319.8L342.6 317.6L344.5 315.5L346.4 313.3L348.3 311.0L350.2 308.7L352.1 306.4L354.1 304.1L356.0 301.7L357.9 299.2L359.8 296.8L361.7 294.3L363.6 291.7L365.5 289.1L367.4 286.5L369.4 283.9L371.3 281.2L373.2 278.4L375.1 275.6L377.0 272.8L378.9 269.9L380.8 266.9L382.8 263.9L384.7 260.8L386.6 257.7L388.5 254.4L390.4 251.1L392.3 247.6L394.2 244.1L396.1 240.5L398.1 236.8L400.0 233.0L401.9 229.1L403.8 225.1L405.7 221.0L407.6 216.8L409.5 212.5L411.5 208.1L413.4 203.7L415.3 199.2L417.2 194.6L419.1 190.0L421.0 185.4L422.9 180.7L424.8 176.0L426.8 171.3L428.7 166.5L430.6 161.8L432.5 157.1L434.4 152.4L436.3 147.8L438.2 143.2L440.2 138.6L442.1 134.1L444.0 129.6L445.9 125.3L447.8 121.0L449.7 116.8L451.6 121.0L453.5 125.3L455.5 129.6L457.4 134.1L459.3 138.6L461.2 143.2L463.1 147.8L465.0 152.4L466.9 157.1L468.9 161.8L470.8 166.5L472.7 171.3L474.6 176.0L476.5 180.7L478.4 185.4L480.3 190.0L482.2 194.6L484.2 199.2L486.1 203.7L488.0 208.1L489.9 212.5L491.8 216.8L493.7 221.0L495.6 225.1L497.6 229.1L499.5 233.0L501.4 236.8L503.3 240.5L505.2 244.1L507.1 247.6L509.0 251.1L510.9 254.4L512.9 257.7L514.8 260.8L516.7 263.9L518.6 266.9L520.5 269.9L522.4 272.8L524.3 275.6L526.3 278.4L528.2 281.2L530.1 283.9L532.0 286.5L533.9 289.1L535.8 291.7L537.7 294.3L539.6 296.8L541.6 299.2L543.5 301.7L545.4 304.1L547.3 306.4L549.2 308.7L551.1 311.0L553.0 313.3L555.0 315.5L556.9 317.6L558.8 319.8L560.7 321.9L562.6 324.0L564.5 326.0L566.4 328.0L568.4 330.0L570.3 331.9L572.2 333.8L574.1 335.7L576.0 337.5L577.9 339.3L579.8 341.1L581.7 342.8L583.7 344.5L585.6 346.2L587.5 347.9L589.4 349.5L591.3 351.1L593.2 352.6L595.1 354.2L597.1 355.7L599.0 357.1L600.9 358.6L602.8 360.0L604.7 361.4L606.6 362.8L608.5 364.1L610.4 365.4L612.4 366.7L614.3 368.0L616.2 369.2L618.1 370.4L620.0 371.6L621.9 372.8L623.8 373.9L625.8 375.0L627.7 376.1L629.6 377.2L631.5 378.2L633.4 379.3L635.3 380.3L637.2 381.2L639.1 382.2L641.1 383.1L643.0 384.1L644.9 385.0L646.8 385.9L648.7 386.7L650.6 387.6L652.5 388.4L654.5 389.2L656.4 390.0L658.3 390.7L660.2 391.5L662.1 392.2L664.0 393.0L665.9 393.7L667.8 394.3L669.8 395.0L671.7 395.7L673.6 396.3L675.5 396.9L677.4 397.6L679.3 398.2L681.2 398.7L683.2 399.3L685.1 399.9L687.0 400.4L688.9 400.9L690.8 401.5L692.7 402.0L694.6 402.5L696.5 403.0L698.5 403.4L700.4 403.9L702.3 404.4L704.2 404.8L706.1 405.3L708.0 405.7L709.9 406.1L711.9 406.5L713.8 406.9L715.7 407.3L717.6 407.7L719.5 408.1L721.4 408.5L723.3 408.9L725.2 409.2L727.2 409.6L729.1 409.9L731.0 410.3L732.9 410.6L734.8 411.0L736.7 411.3L738.6 411.7L740.6 412.0L742.5 412.3L744.4 412.7L746.3 413.0L748.2 413.3L750.1 413.3L752.0 413.3L754.0 413.3L755.9 413.3L757.8 413.3L759.7 413.3L761.6 413.3L763.5 413.3L765.4 413.3L767.3 413.3L769.3 413.3L771.2 413.3L773.1 413.3L775.0 413.3L776.9 413.3L778.8 413.3L780.7 413.3L782.7 413.3L784.6 413.3L786.5 413.3L788.4 413.3L790.3 413.3L792.2 413.3L794.1 413.3" fill="none" stroke="#0505bd" stroke-width="0.95" stroke-linejoin="round" stroke-dasharray="23 11.7" stroke-dashoffset="0"/>
<path d="M105.3 438.3L107.2 438.3L109.1 438.3L111.0 438.3L113.0 438.3L114.9 438.3L116.8 438.3L118.7 438.3L120.6 438.3L122.5 438.3L124.4 438.3L126.4 438.3L128.3 438.3L130.2 438.3L132.1 438.3L134.0 438.3L135.9 438.3L137.8 438.3L139.7 438.3L141.7 438.3L143.6 438.3L145.5 438.3L147.4 438.3L149.3 438.3L151.2 438.3L153.1 438.0L155.1 437.7L157.0 437.4L158.9 437.1L160.8 436.8L162.7 436.5L164.6 436.1L166.5 435.8L168.5 435.4L170.4 435.1L172.3 434.7L174.2 434.4L176.1 434.0L178.0 433.6L179.9 433.2L181.8 432.8L183.8 432.4L185.7 432.0L187.6 431.5L189.5 431.1L191.4 430.6L193.3 430.2L195.2 429.7L197.2 429.2L199.1 428.7L201.0 428.2L202.9 427.7L204.8 427.1L206.7 426.6L208.6 426.0L210.5 425.5L212.5 424.9L214.4 424.3L216.3 423.6L218.2 423.0L220.1 422.4L222.0 421.7L223.9 421.0L225.9 420.3L227.8 419.6L229.7 418.9L231.6 418.2L233.5 417.4L235.4 416.6L237.3 415.8L239.2 415.0L241.2 414.2L243.1 413.4L245.0 412.5L246.9 411.6L248.8 410.7L250.7 409.8L252.6 408.8L254.6 407.9L256.5 406.9L258.4 405.9L260.3 404.9L262.2 403.8L264.1 402.8L266.0 401.7L267.9 400.6L269.9 399.5L271.8 398.3L273.7 397.1L275.6 396.0L277.5 394.7L279.4 393.5L281.3 392.2L283.3 390.9L285.2 389.6L287.1 388.3L289.0 386.9L290.9 385.5L292.8 384.1L294.7 382.7L296.6 381.2L298.6 379.7L300.5 378.2L302.4 376.7L304.3 375.1L306.2 373.5L308.1 371.9L310.0 370.2L312.0 368.6L313.9 366.9L315.8 365.1L317.7 363.4L319.6 361.6L321.5 359.7L323.4 357.9L325.3 356.0L327.3 354.1L329.2 352.2L331.1 350.2L333.0 348.2L334.9 346.1L336.8 344.1L338.7 342.0L340.7 339.8L342.6 337.7L344.5 335.4L346.4 333.2L348.3 330.9L350.2 328.6L352.1 326.2L354.1 323.8L356.0 321.3L357.9 318.8L359.8 316.2L361.7 313.5L363.6 310.9L365.5 308.1L367.4 305.3L369.4 302.5L371.3 299.5L373.2 296.6L375.1 293.5L377.0 290.4L378.9 287.2L380.8 283.9L382.8 280.6L384.7 277.2L386.6 273.7L388.5 270.2L390.4 266.6L392.3 262.8L394.2 259.0L396.1 255.1L398.1 251.2L400.0 247.1L401.9 242.9L403.8 238.6L405.7 234.2L407.6 229.7L409.5 225.1L411.5 220.3L413.4 215.4L415.3 210.4L417.2 205.3L419.1 200.1L421.0 194.7L422.9 189.4L424.8 184.0L426.8 178.6L428.7 173.3L430.6 168.1L432.5 163.1L434.4 158.2L436.3 153.5L438.2 149.1L440.2 145.0L442.1 141.2L444.0 137.7L445.9 134.6L447.8 132.0L449.7 129.8L451.6 132.0L453.5 134.6L455.5 137.7L457.4 141.2L459.3 145.0L461.2 149.1L463.1 153.5L465.0 158.2L466.9 163.1L468.9 168.1L470.8 173.3L472.7 178.6L474.6 184.0L476.5 189.4L478.4 194.7L480.3 200.1L482.2 205.3L484.2 210.4L486.1 215.4L488.0 220.3L489.9 225.1L491.8 229.7L493.7 234.2L495.6 238.6L497.6 242.9L499.5 247.1L501.4 251.2L503.3 255.1L505.2 259.0L507.1 262.8L509.0 266.6L510.9 270.2L512.9 273.7L514.8 277.2L516.7 280.6L518.6 283.9L520.5 287.2L522.4 290.4L524.3 293.5L526.3 296.6L528.2 299.5L530.1 302.5L532.0 305.3L533.9 308.1L535.8 310.9L537.7 313.5L539.6 316.2L541.6 318.8L543.5 321.3L545.4 323.8L547.3 326.2L549.2 328.6L551.1 330.9L553.0 333.2L555.0 335.4L556.9 337.7L558.8 339.8L560.7 342.0L562.6 344.1L564.5 346.1L566.4 348.2L568.4 350.2L570.3 352.2L572.2 354.1L574.1 356.0L576.0 357.9L577.9 359.7L579.8 361.6L581.7 363.4L583.7 365.1L585.6 366.9L587.5 368.6L589.4 370.2L591.3 371.9L593.2 373.5L595.1 375.1L597.1 376.7L599.0 378.2L600.9 379.7L602.8 381.2L604.7 382.7L606.6 384.1L608.5 385.5L610.4 386.9L612.4 388.3L614.3 389.6L616.2 390.9L618.1 392.2L620.0 393.5L621.9 394.7L623.8 396.0L625.8 397.1L627.7 398.3L629.6 399.5L631.5 400.6L633.4 401.7L635.3 402.8L637.2 403.8L639.1 404.9L641.1 405.9L643.0 406.9L644.9 407.9L646.8 408.8L648.7 409.8L650.6 410.7L652.5 411.6L654.5 412.5L656.4 413.4L658.3 414.2L660.2 415.0L662.1 415.8L664.0 416.6L665.9 417.4L667.8 418.2L669.8 418.9L671.7 419.6L673.6 420.3L675.5 421.0L677.4 421.7L679.3 422.4L681.2 423.0L683.2 423.6L685.1 424.3L687.0 424.9L688.9 425.5L690.8 426.0L692.7 426.6L694.6 427.1L696.5 427.7L698.5 428.2L700.4 428.7L702.3 429.2L704.2 429.7L706.1 430.2L708.0 430.6L709.9 431.1L711.9 431.5L713.8 432.0L715.7 432.4L717.6 432.8L719.5 433.2L721.4 433.6L723.3 434.0L725.2 434.4L727.2 434.7L729.1 435.1L731.0 435.4L732.9 435.8L734.8 436.1L736.7 436.5L738.6 436.8L740.6 437.1L742.5 437.4L744.4 437.7L746.3 438.0L748.2 438.3L750.1 438.3L752.0 438.3L754.0 438.3L755.9 438.3L757.8 438.3L759.7 438.3L761.6 438.3L763.5 438.3L765.4 438.3L767.3 438.3L769.3 438.3L771.2 438.3L773.1 438.3L775.0 438.3L776.9 438.3L778.8 438.3L780.7 438.3L782.7 438.3L784.6 438.3L786.5 438.3L788.4 438.3L790.3 438.3L792.2 438.3L794.1 438.3" fill="none" stroke="#0505bd" stroke-width="0.95" stroke-linejoin="round" stroke-dasharray="23 11.7" stroke-dashoffset="0"/>
<path d="M105.3 233.4V265.1" stroke="#505050" stroke-width="1" fill="none"/>
<path d="M101.8 233.4h7M101.8 265.1h7" stroke="#777" stroke-width="1" fill="none"/>
<path d="M105.3 244.3l3.6 3.9l-3.6 3.9l-3.6 -3.9z" fill="#444"/>
<path d="M143.6 231.6V253.9" stroke="#505050" stroke-width="1" fill="none"/>
<path d="M140.1 231.6h7M140.1 253.9h7" stroke="#777" stroke-width="1" fill="none"/>
<path d="M143.6 238.4l3.6 3.9l-3.6 3.9l-3.6 -3.9z" fill="#444"/>
<path d="M181.8 237.3V263.5" stroke="#505050" stroke-width="1" fill="none"/>
<path d="M178.3 237.3h7M178.3 263.5h7" stroke="#777" stroke-width="1" fill="none"/>
<path d="M181.8 245.9l3.6 3.9l-3.6 3.9l-3.6 -3.9z" fill="#444"/>
<path d="M220.1 260.7V287.4" stroke="#505050" stroke-width="1" fill="none"/>
<path d="M216.6 260.7h7M216.6 287.4h7" stroke="#777" stroke-width="1" fill="none"/>
<path d="M220.1 269.6l3.6 3.9l-3.6 3.9l-3.6 -3.9z" fill="#444"/>
<path d="M258.4 252.9V287.9" stroke="#505050" stroke-width="1" fill="none"/>
<path d="M254.9 252.9h7M254.9 287.9h7" stroke="#777" stroke-width="1" fill="none"/>
<path d="M258.4 265.8l3.6 3.9l-3.6 3.9l-3.6 -3.9z" fill="#444"/>
<path d="M296.6 236.0V270.3" stroke="#505050" stroke-width="1" fill="none"/>
<path d="M293.1 236.0h7M293.1 270.3h7" stroke="#777" stroke-width="1" fill="none"/>
<path d="M296.6 248.4l3.6 3.9l-3.6 3.9l-3.6 -3.9z" fill="#444"/>
<path d="M334.9 186.3V239.5" stroke="#505050" stroke-width="1" fill="none"/>
<path d="M331.4 186.3h7M331.4 239.5h7" stroke="#777" stroke-width="1" fill="none"/>
<path d="M334.9 207.0l3.6 3.9l-3.6 3.9l-3.6 -3.9z" fill="#444"/>
<path d="M373.2 151.3V166.6" stroke="#505050" stroke-width="1" fill="none"/>
<path d="M369.7 151.3h7M369.7 166.6h7" stroke="#777" stroke-width="1" fill="none"/>
<path d="M373.2 154.6l3.6 3.9l-3.6 3.9l-3.6 -3.9z" fill="#444"/>
<path d="M411.5 121.9V172.3" stroke="#505050" stroke-width="1" fill="none"/>
<path d="M408.0 121.9h7M408.0 172.3h7" stroke="#777" stroke-width="1" fill="none"/>
<path d="M411.5 141.4l3.6 3.9l-3.6 3.9l-3.6 -3.9z" fill="#444"/>
<path d="M449.7 105.7V150.5" stroke="#505050" stroke-width="1" fill="none"/>
<path d="M446.2 105.7h7M446.2 150.5h7" stroke="#777" stroke-width="1" fill="none"/>
<path d="M449.7 122.4l3.6 3.9l-3.6 3.9l-3.6 -3.9z" fill="#444"/>
<path d="M488.0 159.3V175.8" stroke="#505050" stroke-width="1" fill="none"/>
<path d="M484.5 159.3h7M484.5 175.8h7" stroke="#777" stroke-width="1" fill="none"/>
<path d="M488.0 163.6l3.6 3.9l-3.6 3.9l-3.6 -3.9z" fill="#444"/>
<path d="M526.3 191.3V205.8" stroke="#505050" stroke-width="1" fill="none"/>
<path d="M522.8 191.3h7M522.8 205.8h7" stroke="#777" stroke-width="1" fill="none"/>
<path d="M526.3 194.6l3.6 3.9l-3.6 3.9l-3.6 -3.9z" fill="#444"/>
<path d="M564.5 223.0V269.3" stroke="#505050" stroke-width="1" fill="none"/>
<path d="M561.0 223.0h7M561.0 269.3h7" stroke="#777" stroke-width="1" fill="none"/>
<path d="M564.5 240.6l3.6 3.9l-3.6 3.9l-3.6 -3.9z" fill="#444"/>
<path d="M602.8 286.3V314.0" stroke="#505050" stroke-width="1" fill="none"/>
<path d="M599.3 286.3h7M599.3 314.0h7" stroke="#777" stroke-width="1" fill="none"/>
<path d="M602.8 295.6l3.6 3.9l-3.6 3.9l-3.6 -3.9z" fill="#444"/>
<path d="M641.1 306.3V328.2" stroke="#505050" stroke-width="1" fill="none"/>
<path d="M637.6 306.3h7M637.6 328.2h7" stroke="#777" stroke-width="1" fill="none"/>
<path d="M641.1 312.6l3.6 3.9l-3.6 3.9l-3.6 -3.9z" fill="#444"/>
<path d="M679.3 287.0V319.0" stroke="#505050" stroke-width="1" fill="none"/>
<path d="M675.8 287.0h7M675.8 319.0h7" stroke="#777" stroke-width="1" fill="none"/>
<path d="M679.3 298.1l3.6 3.9l-3.6 3.9l-3.6 -3.9z" fill="#444"/>
<path d="M717.6 251.8V285.3" stroke="#505050" stroke-width="1" fill="none"/>
<path d="M714.1 251.8h7M714.1 285.3h7" stroke="#777" stroke-width="1" fill="none"/>
<path d="M717.6 263.6l3.6 3.9l-3.6 3.9l-3.6 -3.9z" fill="#444"/>
<path d="M755.9 262.5V286.8" stroke="#505050" stroke-width="1" fill="none"/>
<path d="M752.4 262.5h7M752.4 286.8h7" stroke="#777" stroke-width="1" fill="none"/>
<path d="M755.9 270.1l3.6 3.9l-3.6 3.9l-3.6 -3.9z" fill="#444"/>
<path d="M794.1 250.5V280.0" stroke="#505050" stroke-width="1" fill="none"/>
<path d="M790.6 250.5h7M790.6 280.0h7" stroke="#777" stroke-width="1" fill="none"/>
<path d="M794.1 260.6l3.6 3.9l-3.6 3.9l-3.6 -3.9z" fill="#444"/>
<rect x="99" y="18.75" width="702" height="441.15" fill="none" stroke="#111" stroke-width="1.75"/>
<path d="M105.31 18.75v10.6M105.31 459.9v-10.6M143.58 18.75v10.6M143.58 459.9v-10.6M181.84 18.75v10.6M181.84 459.9v-10.6M220.11 18.75v10.6M220.11 459.9v-10.6M258.38 18.75v10.6M258.38 459.9v-10.6M296.65 18.75v10.6M296.65 459.9v-10.6M334.92 18.75v10.6M334.92 459.9v-10.6M373.18 18.75v10.6M373.18 459.9v-10.6M411.45 18.75v10.6M411.45 459.9v-10.6M449.72 18.75v10.6M449.72 459.9v-10.6M487.99 18.75v10.6M487.99 459.9v-10.6M526.26 18.75v10.6M526.26 459.9v-10.6M564.52 18.75v10.6M564.52 459.9v-10.6M602.79 18.75v10.6M602.79 459.9v-10.6M641.06 18.75v10.6M641.06 459.9v-10.6M679.33 18.75v10.6M679.33 459.9v-10.6M717.60 18.75v10.6M717.60 459.9v-10.6M755.86 18.75v10.6M755.86 459.9v-10.6M794.13 18.75v10.6M794.13 459.9v-10.6M99 35.6h10.6M801 35.6h-10.6M99 157.7h10.6M801 157.7h-10.6M99 220.7h10.6M801 220.7h-10.6M99 280.05h10.6M801 280.05h-10.6M99 370.1h10.6M801 370.1h-10.6M99 441.7h10.6M801 441.7h-10.6" stroke="#111" stroke-width="1.55" fill="none"/>
<text x="92.1" y="481.9" font-size="17" textLength="27.4" lengthAdjust="spacingAndGlyphs">−90</text>
<text x="130.3" y="481.9" font-size="17" textLength="27.4" lengthAdjust="spacingAndGlyphs">−80</text>
<text x="168.6" y="481.9" font-size="17" textLength="27.4" lengthAdjust="spacingAndGlyphs">−70</text>
<text x="206.9" y="481.9" font-size="17" textLength="27.4" lengthAdjust="spacingAndGlyphs">−60</text>
<text x="245.1" y="481.9" font-size="17" textLength="27.4" lengthAdjust="spacingAndGlyphs">−50</text>
<text x="283.4" y="481.9" font-size="17" textLength="27.4" lengthAdjust="spacingAndGlyphs">−40</text>
<text x="321.7" y="481.9" font-size="17" textLength="27.4" lengthAdjust="spacingAndGlyphs">−30</text>
<text x="359.9" y="481.9" font-size="17" textLength="27.4" lengthAdjust="spacingAndGlyphs">−20</text>
<text x="398.9" y="481.9" font-size="17" textLength="26.0" lengthAdjust="spacingAndGlyphs">−10</text>
<text x="446.9" y="481.9" font-size="17" textLength="9.4" lengthAdjust="spacingAndGlyphs">0</text>
<text x="480.7" y="481.9" font-size="17" textLength="18.4" lengthAdjust="spacingAndGlyphs">10</text>
<text x="519.0" y="481.9" font-size="17" textLength="18.4" lengthAdjust="spacingAndGlyphs">20</text>
<text x="557.2" y="481.9" font-size="17" textLength="18.4" lengthAdjust="spacingAndGlyphs">30</text>
<text x="595.5" y="481.9" font-size="17" textLength="18.4" lengthAdjust="spacingAndGlyphs">40</text>
<text x="633.8" y="481.9" font-size="17" textLength="18.4" lengthAdjust="spacingAndGlyphs">50</text>
<text x="672.0" y="481.9" font-size="17" textLength="18.4" lengthAdjust="spacingAndGlyphs">60</text>
<text x="710.3" y="481.9" font-size="17" textLength="18.4" lengthAdjust="spacingAndGlyphs">70</text>
<text x="748.6" y="481.9" font-size="17" textLength="18.4" lengthAdjust="spacingAndGlyphs">80</text>
<text x="786.8" y="481.9" font-size="17" textLength="18.4" lengthAdjust="spacingAndGlyphs">90</text>
<text x="425.3" y="505.9" font-size="17" textLength="48.6" lengthAdjust="spacingAndGlyphs">b [deg]</text>
<text x="49.3" y="42.5" font-size="17" text-anchor="middle">2</text>
<rect x="57.9" y="32.4" width="1.9" height="1.8" fill="#111"/>
<text x="72.8" y="42.5" font-size="17" text-anchor="middle">10</text>
<text x="85" y="34.5" font-size="14.3" text-anchor="middle">8</text>
<text x="49.3" y="164.6" font-size="17" text-anchor="middle">1</text>
<rect x="57.9" y="154.5" width="1.9" height="1.8" fill="#111"/>
<text x="72.8" y="164.6" font-size="17" text-anchor="middle">10</text>
<text x="85" y="156.6" font-size="14.3" text-anchor="middle">8</text>
<text x="49.3" y="227.6" font-size="17" text-anchor="middle">7</text>
<rect x="57.9" y="217.5" width="1.9" height="1.8" fill="#111"/>
<text x="72.8" y="227.6" font-size="17" text-anchor="middle">10</text>
<text x="85" y="219.6" font-size="14.3" text-anchor="middle">7</text>
<text x="49.3" y="286.9" font-size="17" text-anchor="middle">5</text>
<rect x="57.9" y="276.8" width="1.9" height="1.8" fill="#111"/>
<text x="72.8" y="286.9" font-size="17" text-anchor="middle">10</text>
<text x="85" y="278.9" font-size="14.3" text-anchor="middle">7</text>
<text x="49.3" y="377.0" font-size="17" text-anchor="middle">3</text>
<rect x="57.9" y="366.9" width="1.9" height="1.8" fill="#111"/>
<text x="72.8" y="377.0" font-size="17" text-anchor="middle">10</text>
<text x="85" y="369.0" font-size="14.3" text-anchor="middle">7</text>
<text x="49.3" y="448.6" font-size="17" text-anchor="middle">2</text>
<rect x="57.9" y="438.5" width="1.9" height="1.8" fill="#111"/>
<text x="72.8" y="448.6" font-size="17" text-anchor="middle">10</text>
<text x="85" y="440.6" font-size="14.3" text-anchor="middle">7</text>
<g transform="translate(20.1 281.6) rotate(-90)"><text x="-0.2" y="0.0" font-size="17" textLength="33.2" lengthAdjust="spacingAndGlyphs">T [K]</text><text x="45.7" y="3.2" font-size="21" text-anchor="middle" style="stroke-width:0">×</text><text x="57.6" y="0" font-size="17.5">ν</text><text x="66.6" y="-8.0" font-size="14" textLength="17.4" lengthAdjust="spacingAndGlyphs">2.5</text></g>
<text x="617.0" y="14.2" font-size="12.7" textLength="184.6" lengthAdjust="spacingAndGlyphs">Bringmann, Donato, Lineros (2011)</text>
<text x="119.3" y="40.9" font-size="17" textLength="77.2" lengthAdjust="spacingAndGlyphs">B = 6.5 μG</text>
<text x="376.8" y="40.9" font-size="17.6" textLength="145.2" lengthAdjust="spacingAndGlyphs">Galactic Anticenter</text>
<text x="689.5" y="39.3" font-size="17" textLength="36.3" lengthAdjust="spacingAndGlyphs">MAX</text>
<path d="M735.6 34.15H781.8" stroke="#06b606" stroke-width="1.3"/>
<text x="689.5" y="55.4" font-size="17" textLength="36.3" lengthAdjust="spacingAndGlyphs">MED</text>
<path d="M735.6 50.25H781.8" stroke="#bb0505" stroke-width="1.3"/>
<text x="692.6" y="71.6" font-size="17" textLength="33.2" lengthAdjust="spacingAndGlyphs">MIN</text>
<path d="M735.6 66.35H781.8" stroke="#0505bd" stroke-width="1.3"/>
<text x="656.8" y="87.8" font-size="17" textLength="69.0" lengthAdjust="spacingAndGlyphs">408 MHz</text>
<path d="M735.6 82.5H781.8" stroke="#4c4c4c" stroke-width="0.95"/>
<path d="M735.5 78.9v7.2M781.5 78.9v7.2" stroke="#555" stroke-width="1"/>
<path d="M758.5 78.4l3.6 3.9l-3.6 3.9l-3.6 -3.9z" fill="#444"/>
<clipPath id="c"><rect x="0" y="0" width="801" height="512"/></clipPath>
<text x="725.6" y="181.3" font-size="17" textLength="77.6" lengthAdjust="spacingAndGlyphs" style="fill:#0c980c;stroke:#0c980c;stroke-width:.1px" clip-path="url(#c)">L = 15 kpc</text>
<text x="725.6" y="252.5" font-size="17" textLength="69.7" lengthAdjust="spacingAndGlyphs" style="fill:#9c0808;stroke:#9c0808;stroke-width:.1px">L = 4 kpc</text>
<text x="725.6" y="411.3" font-size="17" textLength="66.4" lengthAdjust="spacingAndGlyphs" style="fill:#0c0c9c;stroke:#0c0c9c;stroke-width:.1px">L = 1 kpc</text>
</svg></body></html>
